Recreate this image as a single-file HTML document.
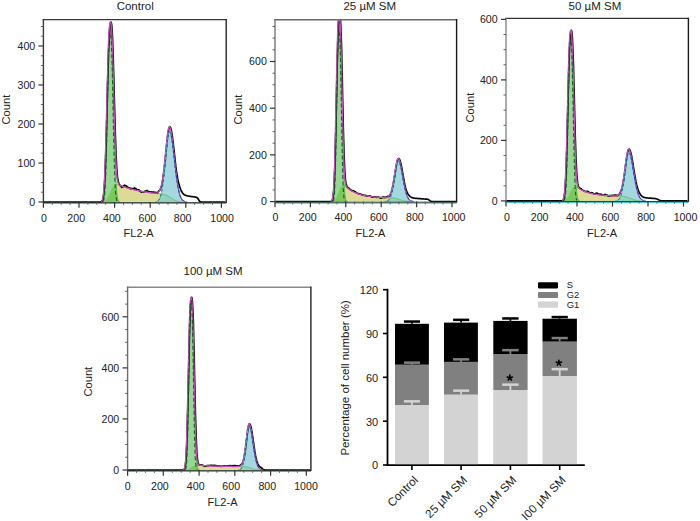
<!DOCTYPE html>
<html><head><meta charset="utf-8"><style>
html,body{margin:0;padding:0;background:#fff;}
body{width:700px;height:521px;overflow:hidden;}
svg{display:block;font-family:"Liberation Sans", sans-serif;}
</style></head><body>
<svg width="700" height="521" viewBox="0 0 700 521">
<clipPath id="c43"><rect x="43.4" y="19.6" width="182.8" height="183.4"/></clipPath>
<g clip-path="url(#c43)">
<path d="M101.8,201.9 102.1,201.9 102.5,201.8 102.9,201.7 103.2,201.7 103.6,201.6 103.9,201.4 104.3,201.3 104.6,201.1 105,200.9 105.3,200.6 105.7,200.3 106.1,199.9 106.4,199.5 106.8,199.1 107.1,198.5 107.5,198 107.8,197.3 108.2,196.6 108.5,195.9 108.9,195.2 109.3,194.4 109.6,193.6 110,192.7 110.3,191.9 110.7,191.1 111,190.3 111.4,189.5 111.8,188.8 112.1,188.1 112.5,187.5 112.8,186.9 113.2,186.4 113.5,186 113.9,185.6 114.2,185.3 114.6,185 115,184.8 115.3,184.7 115.7,184.6 116,184.5 116.4,184.5 116.7,184.5 117.1,184.5 117.4,184.6 117.8,184.7 118.2,184.8 118.5,184.9 118.9,185 119.2,185.1 119.6,185.2 119.9,185.4 120.3,185.5 120.7,185.6 121,185.8 121.4,185.9 121.7,186 122.1,186.2 122.4,186.3 122.8,186.4 123.1,186.5 123.5,186.7 123.9,186.8 124.2,186.9 124.6,187 124.9,187.2 125.3,187.3 125.6,187.4 126,187.5 126.3,187.6 126.7,187.7 127.1,187.9 127.4,188 127.8,188.1 128.1,188.2 128.5,188.3 128.8,188.4 129.2,188.5 129.6,188.6 129.9,188.7 130.3,188.8 130.6,188.9 131,189 131.3,189.1 131.7,189.2 132,189.3 132.4,189.4 132.8,189.4 133.1,189.5 133.5,189.6 133.8,189.7 134.2,189.8 134.5,189.9 134.9,190 135.2,190 135.6,190.1 136,190.2 136.3,190.3 136.7,190.4 137,190.4 137.4,190.5 137.7,190.6 138.1,190.7 138.5,190.7 138.8,190.8 139.2,190.9 139.5,190.9 139.9,191 140.2,191.1 140.6,191.2 140.9,191.2 141.3,191.3 141.7,191.3 142,191.4 142.4,191.5 142.7,191.5 143.1,191.6 143.4,191.7 143.8,191.7 144.1,191.8 144.5,191.8 144.9,191.9 145.2,191.9 145.6,192 145.9,192.1 146.3,192.1 146.6,192.2 147,192.2 147.4,192.3 147.7,192.3 148.1,192.4 148.4,192.4 148.8,192.5 149.1,192.5 149.5,192.6 149.8,192.6 150.2,192.7 150.6,192.7 150.9,192.8 151.3,192.8 151.6,192.8 152,192.9 152.3,192.9 152.7,193 153,193 153.4,193.1 153.8,193.1 154.1,193.1 154.5,193.2 154.8,193.2 155.2,193.3 155.5,193.3 155.9,193.3 156.3,193.4 156.6,193.4 157,193.5 157.3,193.5 157.7,193.5 158,193.6 158.4,193.6 158.7,193.6 159.1,193.7 159.5,193.7 159.8,193.8 160.2,193.8 160.5,193.9 160.9,193.9 161.2,194 161.6,194 161.9,194.1 162.3,194.1 162.7,194.2 163,194.3 163.4,194.4 163.7,194.4 164.1,194.5 164.4,194.6 164.8,194.7 165.2,194.8 165.5,195 165.9,195.1 166.2,195.2 166.6,195.4 166.9,195.5 167.3,195.7 167.6,195.9 168,196.1 168.4,196.3 168.7,196.5 169.1,196.7 169.4,196.9 169.8,197.1 170.1,197.3 170.5,197.5 170.8,197.8 171.2,198 171.6,198.2 171.9,198.5 172.3,198.7 172.6,198.9 173,199.1 173.3,199.3 173.7,199.6 174.1,199.8 174.4,199.9 174.8,200.1 175.1,200.3 175.5,200.5 175.8,200.6 176.2,200.8 176.5,200.9 176.9,201 177.3,201.1 177.6,201.2 178,201.3 178.3,201.4 178.7,201.5 179,201.6 179.4,201.6 179.7,201.7 180.1,201.7 180.5,201.8 180.8,201.8 181.2,201.8 181.5,201.9 181.9,201.9 L181.9,202 L101.8,202 Z" fill="#dcda96"/>
<path d="M101.8,201.9 102.1,201.9 102.5,201.8 102.9,201.7 103.2,201.7 103.6,201.6 103.9,201.4 104.3,201.3 104.6,201.1 105,200.9 105.3,200.6 105.7,200.3 106.1,199.9 106.4,199.5 106.8,199.1 107.1,198.5 107.5,198 107.8,197.3 108.2,196.6 108.5,195.9 108.9,195.2 109.3,194.4 109.6,193.6 110,192.7 110.3,191.9 110.7,191.1 111,190.3 111.4,189.5 111.8,188.8 112.1,188.1 112.5,187.5 112.8,186.9 113.2,186.4 113.5,186 113.9,185.6 114.2,185.3 114.6,185 115,184.8 115.3,184.7 115.7,184.6 116,184.5 116.4,184.5 116.7,184.5 117.1,184.5 117.4,184.6 117.8,184.7 118.2,184.8 118.5,184.9 118.9,185 119.2,185.1 119.6,185.2 119.9,185.4 120.3,185.5 120.7,185.6 121,185.8 121.4,185.9 121.7,186 122.1,186.2 122.4,186.3 122.8,186.4 123.1,186.5 123.5,186.7 123.9,186.8 124.2,186.9 124.6,187 124.9,187.2 125.3,187.3 125.6,187.4 126,187.5 126.3,187.6 126.7,187.7 127.1,187.9 127.4,188 127.8,188.1 128.1,188.2 128.5,188.3 128.8,188.4 129.2,188.5 129.6,188.6 129.9,188.7 130.3,188.8 130.6,188.9 131,189 131.3,189.1 131.7,189.2 132,189.3 132.4,189.4 132.8,189.4 133.1,189.5 133.5,189.6 133.8,189.7 134.2,189.8 134.5,189.9 134.9,190 135.2,190 135.6,190.1 136,190.2 136.3,190.3 136.7,190.4 137,190.4 137.4,190.5 137.7,190.6 138.1,190.7 138.5,190.7 138.8,190.8 139.2,190.9 139.5,190.9 139.9,191 140.2,191.1 140.6,191.2 140.9,191.2 141.3,191.3 141.7,191.3 142,191.4 142.4,191.5 142.7,191.5 143.1,191.6 143.4,191.7 143.8,191.7 144.1,191.8 144.5,191.8 144.9,191.9 145.2,191.9 145.6,192 145.9,192.1 146.3,192.1 146.6,192.2 147,192.2 147.4,192.3 147.7,192.3 148.1,192.4 148.4,192.4 148.8,192.5 149.1,192.5 149.5,192.6 149.8,192.6 150.2,192.7 150.6,192.7 150.9,192.8 151.3,192.8 151.6,192.8 152,192.9 152.3,192.9 152.7,193 153,193 153.4,193.1 153.8,193.1 154.1,193.1 154.5,193.2 154.8,193.2 155.2,193.3 155.5,193.3 155.9,193.3 156.3,193.4 156.6,193.4 157,193.5 157.3,193.5 157.7,193.5 158,193.6 158.4,193.6 158.7,193.6 159.1,193.7 159.5,193.7 159.8,193.8 160.2,193.8 160.5,193.9 160.9,193.9 161.2,194 161.6,194 161.9,194.1 162.3,194.1 162.7,194.2 163,194.3 163.4,194.4 163.7,194.4 164.1,194.5 164.4,194.6 164.8,194.7 165.2,194.8 165.5,195 165.9,195.1 166.2,195.2 166.6,195.4 166.9,195.5 167.3,195.7 167.6,195.9 168,196.1 168.4,196.3 168.7,196.5 169.1,196.7 169.4,196.9 169.8,197.1 170.1,197.3 170.5,197.5 170.8,197.8 171.2,198 171.6,198.2 171.9,198.5 172.3,198.7 172.6,198.9 173,199.1 173.3,199.3 173.7,199.6 174.1,199.8 174.4,199.9 174.8,200.1 175.1,200.3 175.5,200.5 175.8,200.6 176.2,200.8 176.5,200.9 176.9,201 177.3,201.1 177.6,201.2 178,201.3 178.3,201.4 178.7,201.5 179,201.6 179.4,201.6 179.7,201.7 180.1,201.7 180.5,201.8 180.8,201.8 181.2,201.8 181.5,201.9 181.9,201.9" fill="none" stroke="#e07a3a" stroke-width="0.9"/>
<path d="M100.4,201.9 100.7,201.9 101.1,201.7 101.4,201.5 101.8,201.1 102.1,200.5 102.5,199.5 102.9,197.9 103.2,195.7 103.6,192.6 103.9,188.4 104.3,182.9 104.6,175.9 105,167.3 105.3,157.2 105.7,145.7 106.1,133 106.4,119.5 106.8,105.6 107.1,91.9 107.5,78.8 107.8,67 108.2,56.7 108.5,48.3 108.9,41.9 109.3,37.6 109.6,35 110,34 110.3,33.9 110.7,34.6 111,36.6 111.4,40.4 111.8,46.2 112.1,54 112.5,63.7 112.8,75.1 113.2,87.9 113.5,101.4 113.9,115.3 114.2,129 114.6,142 115,153.9 115.3,164.4 115.7,173.5 116,180.9 116.4,186.9 116.7,191.5 117.1,194.9 117.4,197.4 117.8,199.1 118.2,200.2 118.5,200.9 118.9,201.4 119.2,201.7 119.6,201.8 119.9,201.9 L119.9,202 L100.4,202 Z" fill="#96d796"/>
<path d="M155.2,201.9 155.5,201.8 155.9,201.8 156.3,201.7 156.6,201.6 157,201.5 157.3,201.3 157.7,201.1 158,200.8 158.4,200.5 158.7,200.1 159.1,199.6 159.5,199 159.8,198.3 160.2,197.4 160.5,196.3 160.9,195.1 161.2,193.7 161.6,192.1 161.9,190.2 162.3,188.1 162.7,185.8 163,183.2 163.4,180.3 163.7,177.3 164.1,174 164.4,170.5 164.8,166.9 165.2,163.2 165.5,159.4 165.9,155.6 166.2,151.9 166.6,148.3 166.9,145 167.3,141.8 167.6,139 168,136.6 168.4,134.7 168.7,133.2 169.1,132.2 169.4,131.8 169.8,131.9 170.1,132.4 170.5,133.2 170.8,134.5 171.2,136 171.6,137.9 171.9,140 172.3,142.5 172.6,145.1 173,147.9 173.3,150.9 173.7,153.9 174.1,157.1 174.4,160.2 174.8,163.4 175.1,166.5 175.5,169.5 175.8,172.4 176.2,175.2 176.5,177.9 176.9,180.5 177.3,182.8 177.6,185 178,187.1 178.3,188.9 178.7,190.6 179,192.1 179.4,193.5 179.7,194.7 180.1,195.8 180.5,196.8 180.8,197.6 181.2,198.3 181.5,198.9 181.9,199.4 182.2,199.9 182.6,200.3 183,200.6 183.3,200.9 183.7,201.1 184,201.3 184.4,201.4 184.7,201.5 185.1,201.6 185.4,201.7 185.8,201.8 186.2,201.8 186.5,201.9 186.9,201.9 L186.9,202 L155.2,202 Z" fill="#a5d7e1"/>
<path d="M101.8,201.9 102.1,201.9 102.5,201.8 102.9,201.7 103.2,201.7 103.6,201.6 103.9,201.4 104.3,201.3 104.6,201.1 105,200.9 105.3,200.6 105.7,200.3 106.1,199.9 106.4,199.5 106.8,199.1 107.1,198.5 107.5,198 107.8,197.3 108.2,196.6 108.5,195.9 108.9,195.2 109.3,194.4 109.6,193.6 110,192.7 110.3,191.9 110.7,191.1 111,190.3 111.4,189.5 111.8,188.8 112.1,188.1 112.5,187.5 112.8,186.9 113.2,186.4 113.5,186 113.9,185.6 114.2,185.3 114.6,185 115,184.8 115.3,184.7 115.7,184.6 116,184.5 116.4,186.9 116.7,191.5 117.1,194.9 117.4,197.4 117.8,199.1 118.2,200.2 118.5,200.9 118.9,201.4 119.2,201.7 119.6,201.8 119.9,201.9 L119.9,202 L101.8,202 Z" fill="#7dc85a"/>
<path d="M155.2,201.9 155.5,201.8 155.9,201.8 156.3,201.7 156.6,201.6 157,201.5 157.3,201.3 157.7,201.1 158,200.8 158.4,200.5 158.7,200.1 159.1,199.6 159.5,199 159.8,198.3 160.2,197.4 160.5,196.3 160.9,195.1 161.2,194 161.6,194 161.9,194.1 162.3,194.1 162.7,194.2 163,194.3 163.4,194.4 163.7,194.4 164.1,194.5 164.4,194.6 164.8,194.7 165.2,194.8 165.5,195 165.9,195.1 166.2,195.2 166.6,195.4 166.9,195.5 167.3,195.7 167.6,195.9 168,196.1 168.4,196.3 168.7,196.5 169.1,196.7 169.4,196.9 169.8,197.1 170.1,197.3 170.5,197.5 170.8,197.8 171.2,198 171.6,198.2 171.9,198.5 172.3,198.7 172.6,198.9 173,199.1 173.3,199.3 173.7,199.6 174.1,199.8 174.4,199.9 174.8,200.1 175.1,200.3 175.5,200.5 175.8,200.6 176.2,200.8 176.5,200.9 176.9,201 177.3,201.1 177.6,201.2 178,201.3 178.3,201.4 178.7,201.5 179,201.6 179.4,201.6 179.7,201.7 180.1,201.7 180.5,201.8 180.8,201.8 181.2,201.8 181.5,201.9 181.9,201.9 L181.9,202 L155.2,202 Z" fill="#8fd2bf"/>
<path d="M155.2,201.9 155.5,201.8 155.9,201.8 156.3,201.7 156.6,201.6 157,201.5 157.3,201.3 157.7,201.1 158,200.8 158.4,200.5 158.7,200.1 159.1,199.6 159.5,199 159.8,198.3 160.2,197.4 160.5,196.3 160.9,195.1 161.2,194 161.6,194 161.9,194.1 162.3,194.1 162.7,194.2 163,194.3 163.4,194.4 163.7,194.4 164.1,194.5 164.4,194.6 164.8,194.7 165.2,194.8 165.5,195 165.9,195.1 166.2,195.2 166.6,195.4 166.9,195.5 167.3,195.7 167.6,195.9 168,196.1 168.4,196.3 168.7,196.5 169.1,196.7 169.4,196.9 169.8,197.1 170.1,197.3 170.5,197.5 170.8,197.8 171.2,198 171.6,198.2 171.9,198.5 172.3,198.7 172.6,198.9 173,199.1 173.3,199.3 173.7,199.6 174.1,199.8 174.4,199.9 174.8,200.1 175.1,200.3 175.5,200.5 175.8,200.6 176.2,200.8 176.5,200.9 176.9,201 177.3,201.1 177.6,201.2 178,201.3 178.3,201.4 178.7,201.5 179,201.6 179.4,201.6 179.7,201.7 180.1,201.7 180.5,201.8 180.8,201.8 181.2,201.8 181.5,201.9 181.9,201.9" fill="none" stroke="#5cc24a" stroke-width="0.8"/>
<path d="M100.4,201.9 100.7,201.9 101.1,201.7 101.4,201.5 101.8,201.1 102.1,200.5 102.5,199.5 102.9,197.9 103.2,195.7 103.6,192.6 103.9,188.4 104.3,182.9 104.6,175.9 105,167.3 105.3,157.2 105.7,145.7 106.1,133 106.4,119.5 106.8,105.6 107.1,91.9 107.5,78.8 107.8,67 108.2,56.7 108.5,48.3 108.9,41.9 109.3,37.6 109.6,35 110,34 110.3,33.9 110.7,34.6 111,36.6 111.4,40.4 111.8,46.2 112.1,54 112.5,63.7 112.8,75.1 113.2,87.9 113.5,101.4 113.9,115.3 114.2,129 114.6,142 115,153.9 115.3,164.4 115.7,173.5 116,180.9 116.4,186.9 116.7,191.5 117.1,194.9 117.4,197.4 117.8,199.1 118.2,200.2 118.5,200.9 118.9,201.4 119.2,201.7 119.6,201.8 119.9,201.9" fill="none" stroke="#3dbb3d" stroke-width="0.9"/>
<path d="M105,166.1 105.3,155.7 105.7,143.8 106.1,130.7 106.4,116.7 106.8,102.2 107.1,87.8 107.5,74.1 107.8,61.4 108.2,50.2 108.5,40.9 108.9,33.6 109.3,28.2 109.6,24.8 110,22.9 110.3,21.9 110.7,21.8 111,23.2 111.4,26.4 111.8,31.6 112.1,38.9 112.5,48.2 112.8,59.3 113.2,71.7 113.5,84.9 113.9,98.6 114.2,112 114.6,124.8 115,136.6 115.3,147 L115.3,164.4 L115,153.9 L114.6,142 L114.2,129 L113.9,115.3 L113.5,101.4 L113.2,87.9 L112.8,75.1 L112.5,63.7 L112.1,54 L111.8,46.2 L111.4,40.4 L111,36.6 L110.7,34.6 L110.3,33.9 L110,34 L109.6,35 L109.3,37.6 L108.9,41.9 L108.5,48.3 L108.2,56.7 L107.8,67 L107.5,78.8 L107.1,91.9 L106.8,105.6 L106.4,119.5 L106.1,133 L105.7,145.7 L105.3,157.2 L105,167.3 Z" fill="#c94cbe"/>
<path d="M43.4,202 43.8,202 44.1,202 44.5,202 44.8,202 45.2,202 45.5,202 45.9,202 46.2,202 46.6,202 47,202 47.3,202 47.7,202 48,202 48.4,202 48.7,202 49.1,202 49.5,202 49.8,202 50.2,202 50.5,202 50.9,202 51.2,202 51.6,202 51.9,202 52.3,202 52.7,202 53,202 53.4,202 53.7,202 54.1,202 54.4,202 54.8,202 55.1,202 55.5,202 55.9,202 56.2,202 56.6,202 56.9,202 57.3,202 57.6,202 58,202 58.4,202 58.7,202 59.1,202 59.4,202 59.8,202 60.1,202 60.5,202 60.8,202 61.2,202 61.6,202 61.9,202 62.3,202 62.6,202 63,202 63.3,202 63.7,202 64,202 64.4,202 64.8,202 65.1,202 65.5,202 65.8,202 66.2,202 66.5,202 66.9,202 67.3,202 67.6,202 68,202 68.3,202 68.7,202 69,202 69.4,202 69.7,202 70.1,202 70.5,202 70.8,202 71.2,202 71.5,202 71.9,202 72.2,202 72.6,202 72.9,202 73.3,202 73.7,202 74,202 74.4,202 74.7,202 75.1,202 75.4,202 75.8,202 76.2,202 76.5,202 76.9,202 77.2,202 77.6,202 77.9,202 78.3,202 78.6,202 79,202 79.4,202 79.7,202 80.1,202 80.4,202 80.8,202 81.1,202 81.5,202 81.8,202 82.2,202 82.6,202 82.9,202 83.3,202 83.6,202 84,202 84.3,202 84.7,202 85.1,202 85.4,202 85.8,202 86.1,202 86.5,202 86.8,202 87.2,202 87.5,202 87.9,202 88.3,202 88.6,202 89,202 89.3,202 89.7,202 90,202 90.4,202 90.7,202 91.1,202 91.5,202 91.8,202 92.2,202 92.5,202 92.9,202 93.2,202 93.6,202 94,202 94.3,202 94.7,202 95,202 95.4,202 95.7,202 96.1,202 96.4,202 96.8,202 97.2,202 97.5,202 97.9,202 98.2,202 98.6,202 98.9,202 99.3,202 99.6,202 100,202 100.4,202 100.7,201.9 101.1,201.8 101.4,201.7 101.8,201.5 102.1,201.1 102.5,200.5 102.9,199.5 103.2,198.1 103.6,196 103.9,193 104.3,188.9 104.6,183.6 105,176.7 105.3,168.3 105.7,158.3 106.1,146.8 106.4,134 106.8,120.2 107.1,105.9 107.5,91.5 107.8,77.6 108.2,64.6 108.5,53.1 108.9,43.4 109.3,35.5 109.6,29.7 110,25.8 110.3,23.5 110.7,22.4 111,22.1 111.4,23 111.8,25.7 112.1,30.4 112.5,37.2 112.8,46 113.2,56.6 113.5,68.6 113.9,81.7 114.2,95.2 114.6,108.7 115,121.7 115.3,133.7 115.7,144.4 116,153.8 116.4,161.6 116.7,167.9 117.1,172.8 117.4,176.6 117.8,179.3 118.2,181.2 118.5,182.6 118.9,183.6 119.2,184.2 119.6,184.6 119.9,185.2 120.3,185.5 120.7,185.7 121,186.1 121.4,187 121.7,187.3 122.1,186.8 122.4,186.7 122.8,186.9 123.1,186.3 123.5,185.9 123.9,185.8 124.2,185.4 124.6,185.2 124.9,185.2 125.3,186 125.6,185.9 126,185.9 126.3,185.9 126.7,186.4 127.1,186.6 127.4,187.1 127.8,187.1 128.1,187.5 128.5,187.7 128.8,187.9 129.2,188 129.6,188.4 129.9,188.2 130.3,188.6 130.6,188.4 131,188.9 131.3,188.8 131.7,188.4 132,188.4 132.4,188.7 132.8,188.8 133.1,188.6 133.5,188.5 133.8,188.7 134.2,188.1 134.5,187.8 134.9,188.1 135.2,188.8 135.6,188.9 136,188.6 136.3,189.4 136.7,189.4 137,189.7 137.4,190.1 137.7,190.2 138.1,190 138.5,189.5 138.8,189.6 139.2,190.6 139.5,190.9 139.9,191 140.2,191 140.6,191.3 140.9,191.6 141.3,192.2 141.7,192.1 142,192.1 142.4,191.9 142.7,191.7 143.1,191.7 143.4,191.9 143.8,192 144.1,191.7 144.5,191.4 144.9,191.6 145.2,191.2 145.6,191.2 145.9,190.9 146.3,191 146.6,190.9 147,190.5 147.4,190.8 147.7,191 148.1,191.4 148.4,191.7 148.8,191.5 149.1,191.9 149.5,191.8 149.8,191.8 150.2,192.1 150.6,192.1 150.9,192.3 151.3,192 151.6,191.9 152,192.1 152.3,192.3 152.7,192.1 153,192.1 153.4,192.2 153.8,192 154.1,192 154.5,192.4 154.8,192.3 155.2,192.3 155.5,192.3 155.9,192.6 156.3,192.7 156.6,192.6 157,192.9 157.3,193.1 157.7,192.5 158,192.5 158.4,191.7 158.7,190.9 159.1,190.8 159.5,190.5 159.8,190.2 160.2,189.6 160.5,188.9 160.9,188.1 161.2,187 161.6,186 161.9,184.6 162.3,182.7 162.7,180.7 163,178.5 163.4,176 163.7,173.3 164.1,170.4 164.4,167.3 164.8,164 165.2,160.5 165.5,156.9 165.9,153.3 166.2,149.7 166.6,146.1 166.9,142.6 167.3,139.3 167.6,136.3 168,133.6 168.4,131.3 168.7,129.4 169.1,128 169.4,127.1 169.8,126.7 170.1,126.9 170.5,127.5 170.8,128.5 171.2,129.9 171.6,131.6 171.9,133.6 172.3,135.9 172.6,138.5 173,141.3 173.3,144.3 173.7,147.4 174.1,150.6 174.4,153.8 174.8,157.1 175.1,160.3 175.5,163.4 175.8,166.4 176.2,169.2 176.5,171.8 176.9,174.2 177.3,176.4 177.6,178.4 178,180.2 178.3,181.8 178.7,183.3 179,184.6 179.4,185.8 179.7,186.9 180.1,187.9 180.5,188.9 180.8,189.8 181.2,190.6 181.5,191.3 181.9,191.9 182.2,192.5 182.6,193 183,193.5 183.3,193.9 183.7,194.2 184,194.5 184.4,194.7 184.7,195 185.1,195.1 185.4,195.3 185.8,195.4 186.2,195.6 186.5,195.7 186.9,195.7 187.2,195.8 187.6,195.9 187.9,196 188.3,196 188.6,196.1 189,196.2 189.4,196.2 189.7,196.3 190.1,196.3 190.4,196.4 190.8,196.4 191.1,196.5 191.5,196.5 191.9,196.6 192.2,196.6 192.6,196.7 192.9,196.7 193.3,196.8 193.6,196.8 194,196.9 194.3,196.9 194.7,197 195.1,197 195.4,197.1 195.8,197.1 196.1,197.2 196.5,197.3 196.8,197.5 197.2,197.8 197.5,198.1 197.9,198.6 198.3,199.1 198.6,199.8 199,200.4 199.3,200.9 199.7,201.3 200,201.6 200.4,201.8 200.8,201.9 201.1,202 201.5,202 201.8,202 202.2,202 202.5,202 202.9,202 203.2,202 203.6,202 204,202 204.3,202 204.7,202 205,202 205.4,202 205.7,202 206.1,202 206.4,202 206.8,202 207.2,202 207.5,202 207.9,202 208.2,202 208.6,202 208.9,202 209.3,202 209.7,202 210,202 210.4,202 210.7,202 211.1,202 211.4,202 211.8,202 212.1,202 212.5,202 212.9,202 213.2,202 213.6,202 213.9,202 214.3,202 214.6,202 215,202 215.3,202 215.7,202 216.1,202 216.4,202 216.8,202 217.1,202 217.5,202 217.8,202 218.2,202 218.6,202 218.9,202 219.3,202 219.6,202 220,202 220.3,202 220.7,202 221,202 221.4,202 221.8,202 222.1,202 222.5,202 222.8,202 223.2,202 223.5,202 223.9,202 224.2,202 224.6,202 225,202 225.3,202" fill="none" stroke="#0a0a0a" stroke-width="1.7" stroke-linejoin="round"/>
<path d="M101.1,201.7 101.4,201.4 101.8,201 102.1,200.3 102.5,199.3 102.9,197.7 103.2,195.4 103.6,192.2 103.9,187.8 104.3,182.1 104.6,174.9 105,166.1 105.3,155.7 105.7,143.8 106.1,130.7 106.4,116.7 106.8,102.2 107.1,87.8 107.5,74.1 107.8,61.4 108.2,50.2 108.5,40.9 108.9,33.6 109.3,28.2 109.6,24.8 110,22.9 110.3,21.9 110.7,21.8 111,23.2 111.4,26.4 111.8,31.6 112.1,38.9 112.5,48.2 112.8,59.3 113.2,71.7 113.5,84.9 113.9,98.6 114.2,112 114.6,124.8 115,136.6 115.3,147 115.7,156 116,163.4 116.4,169.4 116.7,174 117.1,177.4 117.4,179.9 117.8,181.7 118.2,183 118.5,183.8 118.9,184.4 119.2,184.8 119.6,185 119.9,185.3 120.3,185.4 120.7,185.6 121,185.7 121.4,185.9 121.7,186 122.1,186.2 122.4,186.3 122.8,186.4 123.1,186.5 123.5,186.7 123.9,186.8 124.2,186.9 124.6,187 124.9,187.2 125.3,187.3 125.6,187.4 126,187.5 126.3,187.6 126.7,187.7 127.1,187.9 127.4,188 127.8,188.1 128.1,188.2 128.5,188.3 128.8,188.4 129.2,188.5 129.6,188.6 129.9,188.7 130.3,188.8 130.6,188.9 131,189 131.3,189.1 131.7,189.2 132,189.3 132.4,189.4 132.8,189.4 133.1,189.5 133.5,189.6 133.8,189.7 134.2,189.8 134.5,189.9 134.9,190 135.2,190 135.6,190.1 136,190.2 136.3,190.3 136.7,190.4 137,190.4 137.4,190.5 137.7,190.6 138.1,190.7 138.5,190.7 138.8,190.8 139.2,190.9 139.5,190.9 139.9,191 140.2,191.1 140.6,191.2 140.9,191.2 141.3,191.3 141.7,191.3 142,191.4 142.4,191.5 142.7,191.5 143.1,191.6 143.4,191.7 143.8,191.7 144.1,191.8 144.5,191.8 144.9,191.9 145.2,191.9 145.6,192 145.9,192.1 146.3,192.1 146.6,192.2 147,192.2 147.4,192.3 147.7,192.3 148.1,192.4 148.4,192.4 148.8,192.5 149.1,192.5 149.5,192.6 149.8,192.6 150.2,192.7 150.6,192.7 150.9,192.8 151.3,192.8 151.6,192.8 152,192.9 152.3,192.9 152.7,193 153,193 153.4,193 153.8,193.1 154.1,193.1 154.5,193.1 154.8,193.1 155.2,193.1 155.5,193.1 155.9,193.1 156.3,193.1 156.6,193 157,192.9 157.3,192.8 157.7,192.6 158,192.4 158.4,192.1 158.7,191.8 159.1,191.3 159.5,190.7 159.8,190 160.2,189.2 160.5,188.2 160.9,187 161.2,185.7 161.6,184.1 161.9,182.3 162.3,180.2 162.7,178 163,175.4 163.4,172.7 163.7,169.7 164.1,166.5 164.4,163.2 164.8,159.6 165.2,156 165.5,152.4 165.9,148.7 166.2,145.2 166.6,141.7 166.9,138.5 167.3,135.5 167.6,132.9 168,130.7 168.4,128.9 168.7,127.6 169.1,126.9 169.4,126.7 169.8,127 170.1,127.7 170.5,128.8 170.8,130.2 171.2,132 171.6,134.1 171.9,136.5 172.3,139.2 172.6,142 173,145 173.3,148.2 173.7,151.5 174.1,154.8 174.4,158.2 174.8,161.5 175.1,164.8 175.5,168 175.8,171 176.2,174 176.5,176.8 176.9,179.5 177.3,182 177.6,184.3 178,186.4 178.3,188.3 178.7,190.1 179,191.7 179.4,193.1 179.7,194.4 180.1,195.5 180.5,196.5 180.8,197.4 181.2,198.1 181.5,198.8 181.9,199.3 182.2,199.8 182.6,200.2 183,200.5 183.3,200.8 183.7,201 184,201.2 184.4,201.4 184.7,201.5 185.1,201.6" fill="none" stroke="#c94cbe" stroke-width="1.25"/>
<path d="M169.4,131.8 169.8,131.9 170.1,132.4 170.5,133.2 170.8,134.5 171.2,136 171.6,137.9 171.9,140 172.3,142.5 172.6,145.1 173,147.9 173.3,150.9 173.7,153.9 174.1,157.1 174.4,160.2 174.8,163.4 175.1,166.5 175.5,169.5 175.8,172.4 176.2,175.2 176.5,177.9 176.9,180.5 177.3,182.8 177.6,185 178,187.1 178.3,188.9 178.7,190.6 179,192.1 179.4,193.5 179.7,194.7 180.1,195.8 180.5,196.8 180.8,197.6 181.2,198.3 181.5,198.9 181.9,199.4 182.2,199.9 182.6,200.3 183,200.6 183.3,200.9 183.7,201.1 184,201.3 184.4,201.4 184.7,201.5 185.1,201.6 185.4,201.7 185.8,201.8 186.2,201.8 186.5,201.9 186.9,201.9" fill="none" stroke="#4a6fd6" stroke-width="1"/>
<path d="M155.2,201.9 155.5,201.8 155.9,201.8 156.3,201.7 156.6,201.6 157,201.5 157.3,201.3 157.7,201.1 158,200.8 158.4,200.5 158.7,200.1 159.1,199.6 159.5,199 159.8,198.3 160.2,197.4 160.5,196.3 160.9,195.1 161.2,193.7 161.6,192.1 161.9,190.2 162.3,188.1 162.7,185.8 163,183.2 163.4,180.3 163.7,177.3 164.1,174 164.4,170.5 164.8,166.9 165.2,163.2 165.5,159.4 165.9,155.6 166.2,151.9 166.6,148.3 166.9,145 167.3,141.8 167.6,139 168,136.6 168.4,134.7 168.7,133.2 169.1,132.2 169.4,131.8 169.8,131.9" fill="none" stroke="#55c8dc" stroke-width="0.9"/>
<path d="M103.2,201.4 103.6,200.7 103.9,199.6 104.3,197.7 104.6,194.8 105,190.3 105.3,184 105.7,175.5 106.1,164.6 106.4,151.4 106.8,136.3 107.1,119.7 107.5,102.6 107.8,85.9 108.2,70.6 108.5,57.5 108.9,47.2 109.3,40 109.6,35.8 110,34.1 110.3,33.9 110.7,35.1 111,38.5 111.4,44.8 111.8,54.1 112.1,66.4 112.5,81.1 112.8,97.5 113.2,114.6 113.5,131.4 113.9,147.1 114.2,160.9 114.6,172.5 115,181.7 115.3,188.6 115.7,193.6 116,197 116.4,199.1 116.7,200.4 117.1,201.2 117.4,201.6" fill="none" stroke="#1d5a2a" stroke-width="1.1" stroke-dasharray="4,2.5"/>
<path d="M158,200.8 158.4,200.5 158.7,200.1 159.1,199.6 159.5,199 159.8,198.3 160.2,197.4 160.5,196.3 160.9,195.1 161.2,193.7 161.6,192.1 161.9,190.2 162.3,188.1 162.7,185.8 163,183.2 163.4,180.3 163.7,177.3 164.1,174 164.4,170.5 164.8,166.9 165.2,163.2 165.5,159.4 165.9,155.6 166.2,151.9 166.6,148.3 166.9,145 167.3,141.8 167.6,139 168,136.6 168.4,134.7 168.7,133.2 169.1,132.2 169.4,131.8 169.8,131.9 170.1,132.4 170.5,133.2 170.8,134.5 171.2,136 171.6,137.9 171.9,140 172.3,142.5 172.6,145.1 173,147.9 173.3,150.9 173.7,153.9 174.1,157.1 174.4,160.2 174.8,163.4 175.1,166.5 175.5,169.5 175.8,172.4 176.2,175.2 176.5,177.9 176.9,180.5 177.3,182.8 177.6,185 178,187.1 178.3,188.9 178.7,190.6 179,192.1 179.4,193.5 179.7,194.7 180.1,195.8 180.5,196.8 180.8,197.6 181.2,198.3 181.5,198.9 181.9,199.4 182.2,199.9 182.6,200.3 183,200.6 183.3,200.9" fill="none" stroke="#1a2a40" stroke-opacity="0.75" stroke-width="0.9" stroke-dasharray="2.5,2.5"/>
</g>
<line x1="43.4" y1="203.5" x2="226.2" y2="203.5" stroke="#48c8d6" stroke-width="1.1"/>
<line x1="43.4" y1="202.6" x2="226.2" y2="202.6" stroke="#1c2e24" stroke-width="0.9"/>
<line x1="42.7" y1="19.6" x2="226.2" y2="19.6" stroke="#3a3a3a" stroke-width="1.4"/>
<line x1="43.4" y1="18.9" x2="43.4" y2="202.5" stroke="#3a3a3a" stroke-width="1.4"/>
<line x1="226.2" y1="18.9" x2="226.2" y2="202.9" stroke="#262626" stroke-width="1.4"/>
<line x1="38.4" y1="202" x2="43.4" y2="202" stroke="#333" stroke-width="1.2"/>
<text x="35.2" y="205.8" text-anchor="end" font-size="10.6" fill="#222">0</text>
<line x1="40.9" y1="192.2" x2="43.4" y2="192.2" stroke="#555" stroke-width="0.9"/>
<line x1="40.9" y1="182.5" x2="43.4" y2="182.5" stroke="#555" stroke-width="0.9"/>
<line x1="40.9" y1="172.8" x2="43.4" y2="172.8" stroke="#555" stroke-width="0.9"/>
<line x1="38.4" y1="163" x2="43.4" y2="163" stroke="#333" stroke-width="1.2"/>
<text x="35.2" y="166.8" text-anchor="end" font-size="10.6" fill="#222">100</text>
<line x1="40.9" y1="153.2" x2="43.4" y2="153.2" stroke="#555" stroke-width="0.9"/>
<line x1="40.9" y1="143.5" x2="43.4" y2="143.5" stroke="#555" stroke-width="0.9"/>
<line x1="40.9" y1="133.8" x2="43.4" y2="133.8" stroke="#555" stroke-width="0.9"/>
<line x1="38.4" y1="124" x2="43.4" y2="124" stroke="#333" stroke-width="1.2"/>
<text x="35.2" y="127.8" text-anchor="end" font-size="10.6" fill="#222">200</text>
<line x1="40.9" y1="114.2" x2="43.4" y2="114.2" stroke="#555" stroke-width="0.9"/>
<line x1="40.9" y1="104.5" x2="43.4" y2="104.5" stroke="#555" stroke-width="0.9"/>
<line x1="40.9" y1="94.8" x2="43.4" y2="94.8" stroke="#555" stroke-width="0.9"/>
<line x1="38.4" y1="85" x2="43.4" y2="85" stroke="#333" stroke-width="1.2"/>
<text x="35.2" y="88.8" text-anchor="end" font-size="10.6" fill="#222">300</text>
<line x1="40.9" y1="75.2" x2="43.4" y2="75.2" stroke="#555" stroke-width="0.9"/>
<line x1="40.9" y1="65.5" x2="43.4" y2="65.5" stroke="#555" stroke-width="0.9"/>
<line x1="40.9" y1="55.8" x2="43.4" y2="55.8" stroke="#555" stroke-width="0.9"/>
<line x1="38.4" y1="46" x2="43.4" y2="46" stroke="#333" stroke-width="1.2"/>
<text x="35.2" y="49.8" text-anchor="end" font-size="10.6" fill="#222">400</text>
<line x1="40.9" y1="36.2" x2="43.4" y2="36.2" stroke="#555" stroke-width="0.9"/>
<line x1="40.9" y1="26.5" x2="43.4" y2="26.5" stroke="#555" stroke-width="0.9"/>
<line x1="43.4" y1="202" x2="43.4" y2="207.7" stroke="#333" stroke-width="1.2"/>
<text x="44" y="221.6" text-anchor="middle" font-size="10.6" fill="#222">0</text>
<line x1="52.3" y1="202" x2="52.3" y2="204.8" stroke="#555" stroke-width="0.9"/>
<line x1="61.2" y1="202" x2="61.2" y2="204.8" stroke="#555" stroke-width="0.9"/>
<line x1="70.1" y1="202" x2="70.1" y2="204.8" stroke="#555" stroke-width="0.9"/>
<line x1="79" y1="202" x2="79" y2="207.7" stroke="#333" stroke-width="1.2"/>
<text x="76.2" y="221.6" text-anchor="middle" font-size="10.6" fill="#222">200</text>
<line x1="87.9" y1="202" x2="87.9" y2="204.8" stroke="#555" stroke-width="0.9"/>
<line x1="96.8" y1="202" x2="96.8" y2="204.8" stroke="#555" stroke-width="0.9"/>
<line x1="105.7" y1="202" x2="105.7" y2="204.8" stroke="#555" stroke-width="0.9"/>
<line x1="114.6" y1="202" x2="114.6" y2="207.7" stroke="#333" stroke-width="1.2"/>
<text x="111.9" y="221.6" text-anchor="middle" font-size="10.6" fill="#222">400</text>
<line x1="123.5" y1="202" x2="123.5" y2="204.8" stroke="#555" stroke-width="0.9"/>
<line x1="132.4" y1="202" x2="132.4" y2="204.8" stroke="#555" stroke-width="0.9"/>
<line x1="141.3" y1="202" x2="141.3" y2="204.8" stroke="#555" stroke-width="0.9"/>
<line x1="150.2" y1="202" x2="150.2" y2="207.7" stroke="#333" stroke-width="1.2"/>
<text x="147.4" y="221.6" text-anchor="middle" font-size="10.6" fill="#222">600</text>
<line x1="159.1" y1="202" x2="159.1" y2="204.8" stroke="#555" stroke-width="0.9"/>
<line x1="168" y1="202" x2="168" y2="204.8" stroke="#555" stroke-width="0.9"/>
<line x1="176.9" y1="202" x2="176.9" y2="204.8" stroke="#555" stroke-width="0.9"/>
<line x1="185.8" y1="202" x2="185.8" y2="207.7" stroke="#333" stroke-width="1.2"/>
<text x="182.6" y="221.6" text-anchor="middle" font-size="10.6" fill="#222">800</text>
<line x1="194.7" y1="202" x2="194.7" y2="204.8" stroke="#555" stroke-width="0.9"/>
<line x1="203.6" y1="202" x2="203.6" y2="204.8" stroke="#555" stroke-width="0.9"/>
<line x1="212.5" y1="202" x2="212.5" y2="204.8" stroke="#555" stroke-width="0.9"/>
<line x1="221.4" y1="202" x2="221.4" y2="207.7" stroke="#333" stroke-width="1.2"/>
<text x="222.1" y="221.6" text-anchor="middle" font-size="10.6" fill="#222">1000</text>
<text x="135.2" y="9.7" text-anchor="middle" font-size="11.5" fill="#222">Control</text>
<text x="138.6" y="237" text-anchor="middle" font-size="11" fill="#222">FL2-A</text>
<text transform="translate(10.2,109.6) rotate(-90)" text-anchor="middle" font-size="11.2" fill="#222">Count</text>
<clipPath id="c275"><rect x="275" y="19.7" width="181.6" height="182.9"/></clipPath>
<g clip-path="url(#c275)">
<path d="M330.9,201.5 331.3,201.5 331.6,201.5 332,201.4 332.3,201.3 332.7,201.3 333.1,201.1 333.4,201 333.8,200.8 334.1,200.5 334.5,200.2 334.8,199.9 335.2,199.4 335.5,198.9 335.9,198.4 336.2,197.7 336.6,197 336.9,196.2 337.3,195.4 337.7,194.5 338,193.6 338.4,192.7 338.7,191.7 339.1,190.8 339.4,189.9 339.8,189.1 340.1,188.3 340.5,187.6 340.8,187 341.2,186.5 341.6,186.1 341.9,185.8 342.3,185.6 342.6,185.4 343,185.3 343.3,185.4 343.7,185.4 344,185.5 344.4,185.7 344.7,185.9 345.1,186.2 345.4,186.4 345.8,186.7 346.2,186.9 346.5,187.2 346.9,187.5 347.2,187.8 347.6,188.1 347.9,188.3 348.3,188.6 348.6,188.9 349,189.1 349.3,189.4 349.7,189.6 350,189.9 350.4,190.1 350.8,190.3 351.1,190.5 351.5,190.8 351.8,191 352.2,191.2 352.5,191.4 352.9,191.5 353.2,191.7 353.6,191.9 353.9,192.1 354.3,192.3 354.6,192.4 355,192.6 355.4,192.7 355.7,192.9 356.1,193 356.4,193.2 356.8,193.3 357.1,193.4 357.5,193.6 357.8,193.7 358.2,193.8 358.5,193.9 358.9,194.1 359.3,194.2 359.6,194.3 360,194.4 360.3,194.5 360.7,194.6 361,194.7 361.4,194.8 361.7,194.9 362.1,195 362.4,195.1 362.8,195.2 363.1,195.2 363.5,195.3 363.9,195.4 364.2,195.5 364.6,195.5 364.9,195.6 365.3,195.7 365.6,195.8 366,195.8 366.3,195.9 366.7,195.9 367,196 367.4,196.1 367.7,196.1 368.1,196.2 368.5,196.2 368.8,196.3 369.2,196.3 369.5,196.4 369.9,196.4 370.2,196.5 370.6,196.5 370.9,196.6 371.3,196.6 371.6,196.7 372,196.7 372.4,196.7 372.7,196.8 373.1,196.8 373.4,196.8 373.8,196.9 374.1,196.9 374.5,197 374.8,197 375.2,197 375.5,197 375.9,197.1 376.2,197.1 376.6,197.1 377,197.2 377.3,197.2 377.7,197.2 378,197.2 378.4,197.3 378.7,197.3 379.1,197.3 379.4,197.3 379.8,197.4 380.1,197.4 380.5,197.4 380.8,197.4 381.2,197.4 381.6,197.4 381.9,197.5 382.3,197.5 382.6,197.5 383,197.5 383.3,197.5 383.7,197.6 384,197.6 384.4,197.6 384.7,197.6 385.1,197.6 385.4,197.6 385.8,197.6 386.2,197.7 386.5,197.7 386.9,197.7 387.2,197.7 387.6,197.7 387.9,197.7 388.3,197.7 388.6,197.7 389,197.8 389.3,197.8 389.7,197.8 390.1,197.8 390.4,197.8 390.8,197.8 391.1,197.9 391.5,197.9 391.8,197.9 392.2,197.9 392.5,198 392.9,198 393.2,198 393.6,198.1 393.9,198.1 394.3,198.2 394.7,198.2 395,198.3 395.4,198.4 395.7,198.4 396.1,198.5 396.4,198.6 396.8,198.7 397.1,198.8 397.5,198.9 397.8,199 398.2,199.1 398.5,199.2 398.9,199.3 399.3,199.4 399.6,199.5 400,199.6 400.3,199.7 400.7,199.9 401,200 401.4,200.1 401.7,200.2 402.1,200.3 402.4,200.4 402.8,200.5 403.1,200.6 403.5,200.7 403.9,200.8 404.2,200.9 404.6,201 404.9,201 405.3,201.1 405.6,201.2 406,201.2 406.3,201.3 406.7,201.3 407,201.4 407.4,201.4 407.8,201.4 408.1,201.4 408.5,201.5 408.8,201.5 409.2,201.5 409.5,201.5 409.9,201.5 L409.9,201.6 L330.9,201.6 Z" fill="#dcda96"/>
<path d="M330.9,201.5 331.3,201.5 331.6,201.5 332,201.4 332.3,201.3 332.7,201.3 333.1,201.1 333.4,201 333.8,200.8 334.1,200.5 334.5,200.2 334.8,199.9 335.2,199.4 335.5,198.9 335.9,198.4 336.2,197.7 336.6,197 336.9,196.2 337.3,195.4 337.7,194.5 338,193.6 338.4,192.7 338.7,191.7 339.1,190.8 339.4,189.9 339.8,189.1 340.1,188.3 340.5,187.6 340.8,187 341.2,186.5 341.6,186.1 341.9,185.8 342.3,185.6 342.6,185.4 343,185.3 343.3,185.4 343.7,185.4 344,185.5 344.4,185.7 344.7,185.9 345.1,186.2 345.4,186.4 345.8,186.7 346.2,186.9 346.5,187.2 346.9,187.5 347.2,187.8 347.6,188.1 347.9,188.3 348.3,188.6 348.6,188.9 349,189.1 349.3,189.4 349.7,189.6 350,189.9 350.4,190.1 350.8,190.3 351.1,190.5 351.5,190.8 351.8,191 352.2,191.2 352.5,191.4 352.9,191.5 353.2,191.7 353.6,191.9 353.9,192.1 354.3,192.3 354.6,192.4 355,192.6 355.4,192.7 355.7,192.9 356.1,193 356.4,193.2 356.8,193.3 357.1,193.4 357.5,193.6 357.8,193.7 358.2,193.8 358.5,193.9 358.9,194.1 359.3,194.2 359.6,194.3 360,194.4 360.3,194.5 360.7,194.6 361,194.7 361.4,194.8 361.7,194.9 362.1,195 362.4,195.1 362.8,195.2 363.1,195.2 363.5,195.3 363.9,195.4 364.2,195.5 364.6,195.5 364.9,195.6 365.3,195.7 365.6,195.8 366,195.8 366.3,195.9 366.7,195.9 367,196 367.4,196.1 367.7,196.1 368.1,196.2 368.5,196.2 368.8,196.3 369.2,196.3 369.5,196.4 369.9,196.4 370.2,196.5 370.6,196.5 370.9,196.6 371.3,196.6 371.6,196.7 372,196.7 372.4,196.7 372.7,196.8 373.1,196.8 373.4,196.8 373.8,196.9 374.1,196.9 374.5,197 374.8,197 375.2,197 375.5,197 375.9,197.1 376.2,197.1 376.6,197.1 377,197.2 377.3,197.2 377.7,197.2 378,197.2 378.4,197.3 378.7,197.3 379.1,197.3 379.4,197.3 379.8,197.4 380.1,197.4 380.5,197.4 380.8,197.4 381.2,197.4 381.6,197.4 381.9,197.5 382.3,197.5 382.6,197.5 383,197.5 383.3,197.5 383.7,197.6 384,197.6 384.4,197.6 384.7,197.6 385.1,197.6 385.4,197.6 385.8,197.6 386.2,197.7 386.5,197.7 386.9,197.7 387.2,197.7 387.6,197.7 387.9,197.7 388.3,197.7 388.6,197.7 389,197.8 389.3,197.8 389.7,197.8 390.1,197.8 390.4,197.8 390.8,197.8 391.1,197.9 391.5,197.9 391.8,197.9 392.2,197.9 392.5,198 392.9,198 393.2,198 393.6,198.1 393.9,198.1 394.3,198.2 394.7,198.2 395,198.3 395.4,198.4 395.7,198.4 396.1,198.5 396.4,198.6 396.8,198.7 397.1,198.8 397.5,198.9 397.8,199 398.2,199.1 398.5,199.2 398.9,199.3 399.3,199.4 399.6,199.5 400,199.6 400.3,199.7 400.7,199.9 401,200 401.4,200.1 401.7,200.2 402.1,200.3 402.4,200.4 402.8,200.5 403.1,200.6 403.5,200.7 403.9,200.8 404.2,200.9 404.6,201 404.9,201 405.3,201.1 405.6,201.2 406,201.2 406.3,201.3 406.7,201.3 407,201.4 407.4,201.4 407.8,201.4 408.1,201.4 408.5,201.5 408.8,201.5 409.2,201.5 409.5,201.5 409.9,201.5" fill="none" stroke="#e07a3a" stroke-width="0.9"/>
<path d="M330.2,201.6 330.6,201.5 330.9,201.4 331.3,201.2 331.6,200.9 332,200.2 332.3,199.1 332.7,197.4 333.1,194.7 333.4,190.7 333.8,185.1 334.1,177.6 334.5,168.1 334.8,156.4 335.2,142.9 335.5,127.8 335.9,111.8 336.2,95.7 336.6,80.3 336.9,66.3 337.3,54.3 337.7,45 338,38.3 338.4,34.3 338.7,32.6 339.1,32.3 339.4,33 339.8,35.6 340.1,40.7 340.5,48.4 340.8,58.8 341.2,71.6 341.6,86.3 341.9,102.1 342.3,118.3 342.6,134 343,148.5 343.3,161.3 343.7,172.1 344,180.8 344.4,187.5 344.7,192.4 345.1,195.9 345.4,198.2 345.8,199.6 346.2,200.5 346.5,201 346.9,201.3 347.2,201.5 347.6,201.5 L347.6,201.6 L330.2,201.6 Z" fill="#96d796"/>
<path d="M384.7,201.5 385.1,201.5 385.4,201.5 385.8,201.5 386.2,201.4 386.5,201.3 386.9,201.2 387.2,201.1 387.6,201 387.9,200.8 388.3,200.5 388.6,200.2 389,199.8 389.3,199.4 389.7,198.8 390.1,198.1 390.4,197.3 390.8,196.4 391.1,195.3 391.5,194.1 391.8,192.7 392.2,191.2 392.5,189.4 392.9,187.6 393.2,185.5 393.6,183.4 393.9,181.2 394.3,178.8 394.7,176.5 395,174.2 395.4,171.9 395.7,169.7 396.1,167.7 396.4,165.9 396.8,164.3 397.1,163 397.5,162 397.8,161.3 398.2,161 398.5,161.1 398.9,161.4 399.3,161.9 399.6,162.7 400,163.8 400.3,165 400.7,166.4 401,168 401.4,169.7 401.7,171.6 402.1,173.5 402.4,175.4 402.8,177.4 403.1,179.3 403.5,181.3 403.9,183.2 404.2,185 404.6,186.7 404.9,188.3 405.3,189.9 405.6,191.3 406,192.6 406.3,193.8 406.7,194.9 407,195.8 407.4,196.7 407.8,197.5 408.1,198.1 408.5,198.7 408.8,199.2 409.2,199.6 409.5,200 409.9,200.3 410.2,200.5 410.6,200.7 410.9,200.9 411.3,201.1 411.6,201.2 412,201.3 412.4,201.3 412.7,201.4 413.1,201.4 413.4,201.5 413.8,201.5 414.1,201.5 L414.1,201.6 L384.7,201.6 Z" fill="#a5d7e1"/>
<path d="M330.9,201.5 331.3,201.5 331.6,201.5 332,201.4 332.3,201.3 332.7,201.3 333.1,201.1 333.4,201 333.8,200.8 334.1,200.5 334.5,200.2 334.8,199.9 335.2,199.4 335.5,198.9 335.9,198.4 336.2,197.7 336.6,197 336.9,196.2 337.3,195.4 337.7,194.5 338,193.6 338.4,192.7 338.7,191.7 339.1,190.8 339.4,189.9 339.8,189.1 340.1,188.3 340.5,187.6 340.8,187 341.2,186.5 341.6,186.1 341.9,185.8 342.3,185.6 342.6,185.4 343,185.3 343.3,185.4 343.7,185.4 344,185.5 344.4,187.5 344.7,192.4 345.1,195.9 345.4,198.2 345.8,199.6 346.2,200.5 346.5,201 346.9,201.3 347.2,201.5 347.6,201.5 L347.6,201.6 L330.9,201.6 Z" fill="#7dc85a"/>
<path d="M384.7,201.5 385.1,201.5 385.4,201.5 385.8,201.5 386.2,201.4 386.5,201.3 386.9,201.2 387.2,201.1 387.6,201 387.9,200.8 388.3,200.5 388.6,200.2 389,199.8 389.3,199.4 389.7,198.8 390.1,198.1 390.4,197.8 390.8,197.8 391.1,197.9 391.5,197.9 391.8,197.9 392.2,197.9 392.5,198 392.9,198 393.2,198 393.6,198.1 393.9,198.1 394.3,198.2 394.7,198.2 395,198.3 395.4,198.4 395.7,198.4 396.1,198.5 396.4,198.6 396.8,198.7 397.1,198.8 397.5,198.9 397.8,199 398.2,199.1 398.5,199.2 398.9,199.3 399.3,199.4 399.6,199.5 400,199.6 400.3,199.7 400.7,199.9 401,200 401.4,200.1 401.7,200.2 402.1,200.3 402.4,200.4 402.8,200.5 403.1,200.6 403.5,200.7 403.9,200.8 404.2,200.9 404.6,201 404.9,201 405.3,201.1 405.6,201.2 406,201.2 406.3,201.3 406.7,201.3 407,201.4 407.4,201.4 407.8,201.4 408.1,201.4 408.5,201.5 408.8,201.5 409.2,201.5 409.5,201.5 409.9,201.5 L409.9,201.6 L384.7,201.6 Z" fill="#8fd2bf"/>
<path d="M384.7,201.5 385.1,201.5 385.4,201.5 385.8,201.5 386.2,201.4 386.5,201.3 386.9,201.2 387.2,201.1 387.6,201 387.9,200.8 388.3,200.5 388.6,200.2 389,199.8 389.3,199.4 389.7,198.8 390.1,198.1 390.4,197.8 390.8,197.8 391.1,197.9 391.5,197.9 391.8,197.9 392.2,197.9 392.5,198 392.9,198 393.2,198 393.6,198.1 393.9,198.1 394.3,198.2 394.7,198.2 395,198.3 395.4,198.4 395.7,198.4 396.1,198.5 396.4,198.6 396.8,198.7 397.1,198.8 397.5,198.9 397.8,199 398.2,199.1 398.5,199.2 398.9,199.3 399.3,199.4 399.6,199.5 400,199.6 400.3,199.7 400.7,199.9 401,200 401.4,200.1 401.7,200.2 402.1,200.3 402.4,200.4 402.8,200.5 403.1,200.6 403.5,200.7 403.9,200.8 404.2,200.9 404.6,201 404.9,201 405.3,201.1 405.6,201.2 406,201.2 406.3,201.3 406.7,201.3 407,201.4 407.4,201.4 407.8,201.4 408.1,201.4 408.5,201.5 408.8,201.5 409.2,201.5 409.5,201.5 409.9,201.5" fill="none" stroke="#5cc24a" stroke-width="0.8"/>
<path d="M330.2,201.6 330.6,201.5 330.9,201.4 331.3,201.2 331.6,200.9 332,200.2 332.3,199.1 332.7,197.4 333.1,194.7 333.4,190.7 333.8,185.1 334.1,177.6 334.5,168.1 334.8,156.4 335.2,142.9 335.5,127.8 335.9,111.8 336.2,95.7 336.6,80.3 336.9,66.3 337.3,54.3 337.7,45 338,38.3 338.4,34.3 338.7,32.6 339.1,32.3 339.4,33 339.8,35.6 340.1,40.7 340.5,48.4 340.8,58.8 341.2,71.6 341.6,86.3 341.9,102.1 342.3,118.3 342.6,134 343,148.5 343.3,161.3 343.7,172.1 344,180.8 344.4,187.5 344.7,192.4 345.1,195.9 345.4,198.2 345.8,199.6 346.2,200.5 346.5,201 346.9,201.3 347.2,201.5 347.6,201.5" fill="none" stroke="#3dbb3d" stroke-width="0.9"/>
<path d="M334.8,154.2 335.2,139.9 335.5,123.8 335.9,106.7 336.2,89 336.6,71.8 336.9,55.8 337.3,41.8 337.7,30.2 338,21.5 338.4,20.5 338.7,20.5 339.1,20.5 339.4,20.5 339.8,20.5 340.1,20.5 340.5,27.3 340.8,38.4 341.2,52 341.6,67.4 341.9,83.9 342.3,100.6 342.6,116.7 343,131.6 343.3,144.7 L343.3,161.3 L343,148.5 L342.6,134 L342.3,118.3 L341.9,102.1 L341.6,86.3 L341.2,71.6 L340.8,58.8 L340.5,48.4 L340.1,40.7 L339.8,35.6 L339.4,33 L339.1,32.3 L338.7,32.6 L338.4,34.3 L338,38.3 L337.7,45 L337.3,54.3 L336.9,66.3 L336.6,80.3 L336.2,95.7 L335.9,111.8 L335.5,127.8 L335.2,142.9 L334.8,156.4 Z" fill="#c94cbe"/>
<path d="M275,201.6 275.4,201.6 275.7,201.6 276.1,201.6 276.4,201.6 276.8,201.6 277.1,201.6 277.5,201.6 277.8,201.6 278.2,201.6 278.5,201.6 278.9,201.6 279.2,201.6 279.6,201.6 280,201.6 280.3,201.6 280.7,201.6 281,201.6 281.4,201.6 281.7,201.6 282.1,201.6 282.4,201.6 282.8,201.6 283.1,201.6 283.5,201.6 283.9,201.6 284.2,201.6 284.6,201.6 284.9,201.6 285.3,201.6 285.6,201.6 286,201.6 286.3,201.6 286.7,201.6 287,201.6 287.4,201.6 287.7,201.6 288.1,201.6 288.5,201.6 288.8,201.6 289.2,201.6 289.5,201.6 289.9,201.6 290.2,201.6 290.6,201.6 290.9,201.6 291.3,201.6 291.6,201.6 292,201.6 292.3,201.6 292.7,201.6 293.1,201.6 293.4,201.6 293.8,201.6 294.1,201.6 294.5,201.6 294.8,201.6 295.2,201.6 295.5,201.6 295.9,201.6 296.2,201.6 296.6,201.6 296.9,201.6 297.3,201.6 297.7,201.6 298,201.6 298.4,201.6 298.7,201.6 299.1,201.6 299.4,201.6 299.8,201.6 300.1,201.6 300.5,201.6 300.8,201.6 301.2,201.6 301.6,201.6 301.9,201.6 302.3,201.6 302.6,201.6 303,201.6 303.3,201.6 303.7,201.6 304,201.6 304.4,201.6 304.7,201.6 305.1,201.6 305.4,201.6 305.8,201.6 306.2,201.6 306.5,201.6 306.9,201.6 307.2,201.6 307.6,201.6 307.9,201.6 308.3,201.6 308.6,201.6 309,201.6 309.3,201.6 309.7,201.6 310,201.6 310.4,201.6 310.8,201.6 311.1,201.6 311.5,201.6 311.8,201.6 312.2,201.6 312.5,201.6 312.9,201.6 313.2,201.6 313.6,201.6 313.9,201.6 314.3,201.6 314.6,201.6 315,201.6 315.4,201.6 315.7,201.6 316.1,201.6 316.4,201.6 316.8,201.6 317.1,201.6 317.5,201.6 317.8,201.6 318.2,201.6 318.5,201.6 318.9,201.6 319.2,201.6 319.6,201.6 320,201.6 320.3,201.6 320.7,201.6 321,201.6 321.4,201.6 321.7,201.6 322.1,201.6 322.4,201.6 322.8,201.6 323.1,201.6 323.5,201.6 323.9,201.6 324.2,201.6 324.6,201.6 324.9,201.6 325.3,201.6 325.6,201.6 326,201.6 326.3,201.6 326.7,201.6 327,201.6 327.4,201.6 327.7,201.6 328.1,201.6 328.5,201.6 328.8,201.6 329.2,201.6 329.5,201.6 329.9,201.6 330.2,201.6 330.6,201.5 330.9,201.5 331.3,201.4 331.6,201.2 332,200.8 332.3,200.2 332.7,199.2 333.1,197.5 333.4,194.9 333.8,191.1 334.1,185.6 334.5,178.3 334.8,168.9 335.2,157.3 335.5,143.5 335.9,128 336.2,111.1 336.6,93.7 336.9,76.5 337.3,60.3 337.7,45.9 338,33.8 338.4,24.5 338.7,20.5 339.1,20.5 339.4,20.5 339.8,20.5 340.1,20.5 340.5,20.5 340.8,25.9 341.2,36.2 341.6,49.1 341.9,63.9 342.3,80 342.6,96.6 343,112.8 343.3,127.9 343.7,141.4 344,153 344.4,162.4 344.7,169.9 345.1,175.4 345.4,179.5 345.8,182.3 346.2,184.3 346.5,185.5 346.9,186.3 347.2,186.9 347.6,187.4 347.9,187.8 348.3,187.9 348.6,188.1 349,188.3 349.3,188.5 349.7,189.1 350,189.4 350.4,189.5 350.8,189.9 351.1,189.9 351.5,190.5 351.8,190.6 352.2,190.7 352.5,190.8 352.9,190.6 353.2,190.9 353.6,190.9 353.9,191 354.3,191.2 354.6,191.4 355,191.7 355.4,191.8 355.7,192.2 356.1,192.7 356.4,192.7 356.8,193 357.1,193.3 357.5,193.4 357.8,193.4 358.2,193.6 358.5,193.6 358.9,193.6 359.3,193.7 359.6,193.9 360,194.1 360.3,194.2 360.7,194.2 361,194.3 361.4,194.3 361.7,194.7 362.1,194.8 362.4,195.1 362.8,195.1 363.1,194.9 363.5,195.1 363.9,195.4 364.2,195.3 364.6,195.4 364.9,195.4 365.3,195.4 365.6,195.3 366,195.5 366.3,195.8 366.7,195.8 367,195.9 367.4,196.2 367.7,196.1 368.1,196.1 368.5,196.1 368.8,196 369.2,196.1 369.5,196 369.9,195.9 370.2,196.1 370.6,196.1 370.9,196.5 371.3,196.5 371.6,196.9 372,197 372.4,197.1 372.7,197.1 373.1,197.2 373.4,196.8 373.8,196.8 374.1,196.7 374.5,196.8 374.8,196.7 375.2,196.9 375.5,197 375.9,196.9 376.2,197 376.6,197.3 377,197.3 377.3,197.2 377.7,197.1 378,197 378.4,197.1 378.7,197 379.1,197.4 379.4,197.7 379.8,197.8 380.1,197.7 380.5,198 380.8,198.1 381.2,198.1 381.6,198 381.9,197.7 382.3,197.6 382.6,197.2 383,196.9 383.3,197.3 383.7,197.2 384,197.2 384.4,197.5 384.7,197.2 385.1,197.4 385.4,197.2 385.8,197.3 386.2,197.3 386.5,196.9 386.9,196.8 387.2,196.7 387.6,196.3 387.9,196.5 388.3,196.6 388.6,196.4 389,196.2 389.3,195.8 389.7,195.5 390.1,195.1 390.4,194.3 390.8,193.8 391.1,192.9 391.5,191.8 391.8,190.6 392.2,189.3 392.5,187.8 392.9,186.2 393.2,184.4 393.6,182.5 393.9,180.4 394.3,178.2 394.7,176 395,173.7 395.4,171.4 395.7,169.2 396.1,167.1 396.4,165.1 396.8,163.3 397.1,161.7 397.5,160.4 397.8,159.4 398.2,158.8 398.5,158.5 398.9,158.6 399.3,159 399.6,159.6 400,160.4 400.3,161.5 400.7,162.8 401,164.3 401.4,166 401.7,167.8 402.1,169.7 402.4,171.6 402.8,173.7 403.1,175.7 403.5,177.7 403.9,179.7 404.2,181.6 404.6,183.4 404.9,185 405.3,186.6 405.6,188 406,189.2 406.3,190.3 406.7,191.3 407,192.2 407.4,192.9 407.8,193.6 408.1,194.2 408.5,194.7 408.8,195.1 409.2,195.6 409.5,195.9 409.9,196.3 410.2,196.6 410.6,196.9 410.9,197.1 411.3,197.3 411.6,197.5 412,197.6 412.4,197.7 412.7,197.9 413.1,197.9 413.4,198 413.8,198.1 414.1,198.1 414.5,198.2 414.8,198.2 415.2,198.3 415.5,198.3 415.9,198.4 416.2,198.4 416.6,198.4 417,198.4 417.3,198.5 417.7,198.5 418,198.5 418.4,198.6 418.7,198.6 419.1,198.6 419.4,198.6 419.8,198.7 420.1,198.7 420.5,198.7 420.8,198.7 421.2,198.8 421.6,198.8 421.9,198.8 422.3,198.8 422.6,198.9 423,198.9 423.3,198.9 423.7,199 424,199 424.4,199 424.7,199 425.1,199.1 425.4,199.1 425.8,199.1 426.2,199.1 426.5,199.2 426.9,199.2 427.2,199.2 427.6,199.3 427.9,199.4 428.3,199.5 428.6,199.7 429,199.9 429.3,200.2 429.7,200.5 430.1,200.8 430.4,201 430.8,201.2 431.1,201.4 431.5,201.5 431.8,201.5 432.2,201.6 432.5,201.6 432.9,201.6 433.2,201.6 433.6,201.6 433.9,201.6 434.3,201.6 434.7,201.6 435,201.6 435.4,201.6 435.7,201.6 436.1,201.6 436.4,201.6 436.8,201.6 437.1,201.6 437.5,201.6 437.8,201.6 438.2,201.6 438.5,201.6 438.9,201.6 439.3,201.6 439.6,201.6 440,201.6 440.3,201.6 440.7,201.6 441,201.6 441.4,201.6 441.7,201.6 442.1,201.6 442.4,201.6 442.8,201.6 443.1,201.6 443.5,201.6 443.9,201.6 444.2,201.6 444.6,201.6 444.9,201.6 445.3,201.6 445.6,201.6 446,201.6 446.3,201.6 446.7,201.6 447,201.6 447.4,201.6 447.8,201.6 448.1,201.6 448.5,201.6 448.8,201.6 449.2,201.6 449.5,201.6 449.9,201.6 450.2,201.6 450.6,201.6 450.9,201.6 451.3,201.6 451.6,201.6 452,201.6 452.4,201.6 452.7,201.6 453.1,201.6 453.4,201.6 453.8,201.6 454.1,201.6 454.5,201.6 454.8,201.6 455.2,201.6 455.5,201.6 455.9,201.6" fill="none" stroke="#0a0a0a" stroke-width="1.7" stroke-linejoin="round"/>
<path d="M330.6,201.5 330.9,201.4 331.3,201.1 331.6,200.7 332,200 332.3,198.9 332.7,197 333.1,194.2 333.4,190 333.8,184.2 334.1,176.4 334.5,166.4 334.8,154.2 335.2,139.9 335.5,123.8 335.9,106.7 336.2,89 336.6,71.8 336.9,55.8 337.3,41.8 337.7,30.2 338,21.5 338.4,20.5 338.7,20.5 339.1,20.5 339.4,20.5 339.8,20.5 340.1,20.5 340.5,27.3 340.8,38.4 341.2,52 341.6,67.4 341.9,83.9 342.3,100.6 342.6,116.7 343,131.6 343.3,144.7 343.7,155.7 344,164.7 344.4,171.6 344.7,176.7 345.1,180.4 345.4,183 345.8,184.7 346.2,185.9 346.5,186.7 346.9,187.2 347.2,187.7 347.6,188 347.9,188.3 348.3,188.6 348.6,188.9 349,189.1 349.3,189.4 349.7,189.6 350,189.9 350.4,190.1 350.8,190.3 351.1,190.5 351.5,190.8 351.8,191 352.2,191.2 352.5,191.4 352.9,191.5 353.2,191.7 353.6,191.9 353.9,192.1 354.3,192.3 354.6,192.4 355,192.6 355.4,192.7 355.7,192.9 356.1,193 356.4,193.2 356.8,193.3 357.1,193.4 357.5,193.6 357.8,193.7 358.2,193.8 358.5,193.9 358.9,194.1 359.3,194.2 359.6,194.3 360,194.4 360.3,194.5 360.7,194.6 361,194.7 361.4,194.8 361.7,194.9 362.1,195 362.4,195.1 362.8,195.2 363.1,195.2 363.5,195.3 363.9,195.4 364.2,195.5 364.6,195.5 364.9,195.6 365.3,195.7 365.6,195.8 366,195.8 366.3,195.9 366.7,195.9 367,196 367.4,196.1 367.7,196.1 368.1,196.2 368.5,196.2 368.8,196.3 369.2,196.3 369.5,196.4 369.9,196.4 370.2,196.5 370.6,196.5 370.9,196.6 371.3,196.6 371.6,196.7 372,196.7 372.4,196.7 372.7,196.8 373.1,196.8 373.4,196.8 373.8,196.9 374.1,196.9 374.5,197 374.8,197 375.2,197 375.5,197 375.9,197.1 376.2,197.1 376.6,197.1 377,197.2 377.3,197.2 377.7,197.2 378,197.2 378.4,197.3 378.7,197.3 379.1,197.3 379.4,197.3 379.8,197.4 380.1,197.4 380.5,197.4 380.8,197.4 381.2,197.4 381.6,197.4 381.9,197.5 382.3,197.5 382.6,197.5 383,197.5 383.3,197.5 383.7,197.5 384,197.5 384.4,197.5 384.7,197.5 385.1,197.5 385.4,197.5 385.8,197.5 386.2,197.5 386.5,197.4 386.9,197.3 387.2,197.2 387.6,197.1 387.9,196.9 388.3,196.7 388.6,196.4 389,196 389.3,195.5 389.7,195 390.1,194.3 390.4,193.6 390.8,192.7 391.1,191.6 391.5,190.4 391.8,189 392.2,187.5 392.5,185.8 392.9,184 393.2,182 393.6,179.9 393.9,177.7 394.3,175.4 394.7,173.1 395,170.9 395.4,168.7 395.7,166.5 396.1,164.6 396.4,162.8 396.8,161.3 397.1,160.1 397.5,159.2 397.8,158.7 398.2,158.5 398.5,158.6 398.9,159.1 399.3,159.7 399.6,160.7 400,161.8 400.3,163.2 400.7,164.7 401,166.4 401.4,168.2 401.7,170.2 402.1,172.2 402.4,174.2 402.8,176.3 403.1,178.4 403.5,180.4 403.9,182.4 404.2,184.3 404.6,186.1 404.9,187.8 405.3,189.4 405.6,190.9 406,192.2 406.3,193.5 406.7,194.6 407,195.6 407.4,196.5 407.8,197.3 408.1,198 408.5,198.6 408.8,199.1 409.2,199.5 409.5,199.9 409.9,200.2 410.2,200.5 410.6,200.7 410.9,200.9 411.3,201 411.6,201.1 412,201.2 412.4,201.3 412.7,201.4" fill="none" stroke="#c94cbe" stroke-width="1.25"/>
<path d="M398.2,161 398.5,161.1 398.9,161.4 399.3,161.9 399.6,162.7 400,163.8 400.3,165 400.7,166.4 401,168 401.4,169.7 401.7,171.6 402.1,173.5 402.4,175.4 402.8,177.4 403.1,179.3 403.5,181.3 403.9,183.2 404.2,185 404.6,186.7 404.9,188.3 405.3,189.9 405.6,191.3 406,192.6 406.3,193.8 406.7,194.9 407,195.8 407.4,196.7 407.8,197.5 408.1,198.1 408.5,198.7 408.8,199.2 409.2,199.6 409.5,200 409.9,200.3 410.2,200.5 410.6,200.7 410.9,200.9 411.3,201.1 411.6,201.2 412,201.3 412.4,201.3 412.7,201.4 413.1,201.4 413.4,201.5 413.8,201.5 414.1,201.5" fill="none" stroke="#4a6fd6" stroke-width="1"/>
<path d="M384.7,201.5 385.1,201.5 385.4,201.5 385.8,201.5 386.2,201.4 386.5,201.3 386.9,201.2 387.2,201.1 387.6,201 387.9,200.8 388.3,200.5 388.6,200.2 389,199.8 389.3,199.4 389.7,198.8 390.1,198.1 390.4,197.3 390.8,196.4 391.1,195.3 391.5,194.1 391.8,192.7 392.2,191.2 392.5,189.4 392.9,187.6 393.2,185.5 393.6,183.4 393.9,181.2 394.3,178.8 394.7,176.5 395,174.2 395.4,171.9 395.7,169.7 396.1,167.7 396.4,165.9 396.8,164.3 397.1,163 397.5,162 397.8,161.3 398.2,161 398.5,161.1" fill="none" stroke="#55c8dc" stroke-width="0.9"/>
<path d="M333.1,201.1 333.4,200.5 333.8,199.3 334.1,197.1 334.5,193.2 334.8,187 335.2,177.8 335.5,165.3 335.9,149.4 336.2,130.7 336.6,110.3 336.9,89.8 337.3,70.9 337.7,55 338,43.3 338.4,36 338.7,32.8 339.1,32.3 339.4,33.7 339.8,38.4 340.1,47.5 340.5,60.9 340.8,78.1 341.2,97.9 341.6,118.6 341.9,138.4 342.3,156.1 342.6,170.7 343,181.9 343.3,189.8 343.7,195 344,198.1 344.4,199.9 344.7,200.8 345.1,201.3" fill="none" stroke="#1d5a2a" stroke-width="1.1" stroke-dasharray="4,2.5"/>
<path d="M387.6,201 387.9,200.8 388.3,200.5 388.6,200.2 389,199.8 389.3,199.4 389.7,198.8 390.1,198.1 390.4,197.3 390.8,196.4 391.1,195.3 391.5,194.1 391.8,192.7 392.2,191.2 392.5,189.4 392.9,187.6 393.2,185.5 393.6,183.4 393.9,181.2 394.3,178.8 394.7,176.5 395,174.2 395.4,171.9 395.7,169.7 396.1,167.7 396.4,165.9 396.8,164.3 397.1,163 397.5,162 397.8,161.3 398.2,161 398.5,161.1 398.9,161.4 399.3,161.9 399.6,162.7 400,163.8 400.3,165 400.7,166.4 401,168 401.4,169.7 401.7,171.6 402.1,173.5 402.4,175.4 402.8,177.4 403.1,179.3 403.5,181.3 403.9,183.2 404.2,185 404.6,186.7 404.9,188.3 405.3,189.9 405.6,191.3 406,192.6 406.3,193.8 406.7,194.9 407,195.8 407.4,196.7 407.8,197.5 408.1,198.1 408.5,198.7 408.8,199.2 409.2,199.6 409.5,200 409.9,200.3 410.2,200.5 410.6,200.7 410.9,200.9" fill="none" stroke="#1a2a40" stroke-opacity="0.75" stroke-width="0.9" stroke-dasharray="2.5,2.5"/>
</g>
<line x1="275" y1="203.1" x2="456.6" y2="203.1" stroke="#48c8d6" stroke-width="1.1"/>
<line x1="275" y1="202.2" x2="456.6" y2="202.2" stroke="#1c2e24" stroke-width="0.9"/>
<line x1="274.3" y1="19.7" x2="456.6" y2="19.7" stroke="#6a6a6a" stroke-width="1.4"/>
<line x1="275" y1="19" x2="275" y2="202.1" stroke="#777" stroke-width="1.4"/>
<line x1="456.6" y1="19" x2="456.6" y2="202.5" stroke="#1a1a1a" stroke-width="1.4"/>
<line x1="270" y1="201.6" x2="275" y2="201.6" stroke="#333" stroke-width="1.2"/>
<text x="266.8" y="205.4" text-anchor="end" font-size="10.6" fill="#222">0</text>
<line x1="272.5" y1="189.9" x2="275" y2="189.9" stroke="#555" stroke-width="0.9"/>
<line x1="272.5" y1="178.2" x2="275" y2="178.2" stroke="#555" stroke-width="0.9"/>
<line x1="272.5" y1="166.6" x2="275" y2="166.6" stroke="#555" stroke-width="0.9"/>
<line x1="270" y1="154.9" x2="275" y2="154.9" stroke="#333" stroke-width="1.2"/>
<text x="266.8" y="158.7" text-anchor="end" font-size="10.6" fill="#222">200</text>
<line x1="272.5" y1="143.2" x2="275" y2="143.2" stroke="#555" stroke-width="0.9"/>
<line x1="272.5" y1="131.6" x2="275" y2="131.6" stroke="#555" stroke-width="0.9"/>
<line x1="272.5" y1="119.9" x2="275" y2="119.9" stroke="#555" stroke-width="0.9"/>
<line x1="270" y1="108.2" x2="275" y2="108.2" stroke="#333" stroke-width="1.2"/>
<text x="266.8" y="112" text-anchor="end" font-size="10.6" fill="#222">400</text>
<line x1="272.5" y1="96.5" x2="275" y2="96.5" stroke="#555" stroke-width="0.9"/>
<line x1="272.5" y1="84.8" x2="275" y2="84.8" stroke="#555" stroke-width="0.9"/>
<line x1="272.5" y1="73.2" x2="275" y2="73.2" stroke="#555" stroke-width="0.9"/>
<line x1="270" y1="61.5" x2="275" y2="61.5" stroke="#333" stroke-width="1.2"/>
<text x="266.8" y="65.3" text-anchor="end" font-size="10.6" fill="#222">600</text>
<line x1="272.5" y1="49.8" x2="275" y2="49.8" stroke="#555" stroke-width="0.9"/>
<line x1="272.5" y1="38.1" x2="275" y2="38.1" stroke="#555" stroke-width="0.9"/>
<line x1="272.5" y1="26.5" x2="275" y2="26.5" stroke="#555" stroke-width="0.9"/>
<line x1="275" y1="201.6" x2="275" y2="207.3" stroke="#333" stroke-width="1.2"/>
<text x="275.5" y="220.8" text-anchor="middle" font-size="10.6" fill="#222">0</text>
<line x1="283.9" y1="201.6" x2="283.9" y2="204.4" stroke="#555" stroke-width="0.9"/>
<line x1="292.7" y1="201.6" x2="292.7" y2="204.4" stroke="#555" stroke-width="0.9"/>
<line x1="301.6" y1="201.6" x2="301.6" y2="204.4" stroke="#555" stroke-width="0.9"/>
<line x1="310.4" y1="201.6" x2="310.4" y2="207.3" stroke="#333" stroke-width="1.2"/>
<text x="307.7" y="220.8" text-anchor="middle" font-size="10.6" fill="#222">200</text>
<line x1="319.2" y1="201.6" x2="319.2" y2="204.4" stroke="#555" stroke-width="0.9"/>
<line x1="328.1" y1="201.6" x2="328.1" y2="204.4" stroke="#555" stroke-width="0.9"/>
<line x1="336.9" y1="201.6" x2="336.9" y2="204.4" stroke="#555" stroke-width="0.9"/>
<line x1="345.8" y1="201.6" x2="345.8" y2="207.3" stroke="#333" stroke-width="1.2"/>
<text x="343.4" y="220.8" text-anchor="middle" font-size="10.6" fill="#222">400</text>
<line x1="354.6" y1="201.6" x2="354.6" y2="204.4" stroke="#555" stroke-width="0.9"/>
<line x1="363.5" y1="201.6" x2="363.5" y2="204.4" stroke="#555" stroke-width="0.9"/>
<line x1="372.4" y1="201.6" x2="372.4" y2="204.4" stroke="#555" stroke-width="0.9"/>
<line x1="381.2" y1="201.6" x2="381.2" y2="207.3" stroke="#333" stroke-width="1.2"/>
<text x="378.8" y="220.8" text-anchor="middle" font-size="10.6" fill="#222">600</text>
<line x1="390.1" y1="201.6" x2="390.1" y2="204.4" stroke="#555" stroke-width="0.9"/>
<line x1="398.9" y1="201.6" x2="398.9" y2="204.4" stroke="#555" stroke-width="0.9"/>
<line x1="407.8" y1="201.6" x2="407.8" y2="204.4" stroke="#555" stroke-width="0.9"/>
<line x1="416.6" y1="201.6" x2="416.6" y2="207.3" stroke="#333" stroke-width="1.2"/>
<text x="414.9" y="220.8" text-anchor="middle" font-size="10.6" fill="#222">800</text>
<line x1="425.4" y1="201.6" x2="425.4" y2="204.4" stroke="#555" stroke-width="0.9"/>
<line x1="434.3" y1="201.6" x2="434.3" y2="204.4" stroke="#555" stroke-width="0.9"/>
<line x1="443.1" y1="201.6" x2="443.1" y2="204.4" stroke="#555" stroke-width="0.9"/>
<line x1="452" y1="201.6" x2="452" y2="207.3" stroke="#333" stroke-width="1.2"/>
<text x="453.7" y="220.8" text-anchor="middle" font-size="10.6" fill="#222">1000</text>
<text x="369.8" y="9.7" text-anchor="middle" font-size="11.5" fill="#222">25 µM SM</text>
<text x="370.4" y="236.8" text-anchor="middle" font-size="11" fill="#222">FL2-A</text>
<text transform="translate(242.2,109.6) rotate(-90)" text-anchor="middle" font-size="11.2" fill="#222">Count</text>
<clipPath id="c506"><rect x="506" y="18.4" width="182.4" height="183.5"/></clipPath>
<g clip-path="url(#c506)">
<path d="M562.4,200.8 562.8,200.8 563.2,200.7 563.5,200.7 563.9,200.6 564.2,200.5 564.6,200.4 564.9,200.2 565.3,200.1 565.6,199.8 566,199.6 566.4,199.2 566.7,198.9 567.1,198.4 567.4,198 567.8,197.4 568.1,196.8 568.5,196.2 568.8,195.5 569.2,194.8 569.5,194.1 569.9,193.3 570.3,192.6 570.6,191.9 571,191.1 571.3,190.5 571.7,189.8 572,189.2 572.4,188.7 572.7,188.2 573.1,187.9 573.5,187.5 573.8,187.3 574.2,187.1 574.5,187 574.9,186.9 575.2,186.9 575.6,187 575.9,187 576.3,187.2 576.6,187.3 577,187.5 577.4,187.6 577.7,187.8 578.1,188 578.4,188.2 578.8,188.4 579.1,188.6 579.5,188.8 579.8,189 580.2,189.2 580.5,189.4 580.9,189.6 581.3,189.8 581.6,190 582,190.2 582.3,190.4 582.7,190.5 583,190.7 583.4,190.8 583.7,191 584.1,191.2 584.5,191.3 584.8,191.4 585.2,191.6 585.5,191.7 585.9,191.8 586.2,192 586.6,192.1 586.9,192.2 587.3,192.3 587.6,192.4 588,192.6 588.4,192.7 588.7,192.8 589.1,192.9 589.4,193 589.8,193.1 590.1,193.2 590.5,193.2 590.8,193.3 591.2,193.4 591.6,193.5 591.9,193.6 592.3,193.7 592.6,193.7 593,193.8 593.3,193.9 593.7,194 594,194 594.4,194.1 594.8,194.2 595.1,194.2 595.5,194.3 595.8,194.3 596.2,194.4 596.5,194.4 596.9,194.5 597.2,194.6 597.6,194.6 597.9,194.7 598.3,194.7 598.7,194.7 599,194.8 599.4,194.8 599.7,194.9 600.1,194.9 600.4,195 600.8,195 601.1,195 601.5,195.1 601.9,195.1 602.2,195.1 602.6,195.2 602.9,195.2 603.3,195.2 603.6,195.3 604,195.3 604.3,195.3 604.7,195.4 605,195.4 605.4,195.4 605.8,195.5 606.1,195.5 606.5,195.5 606.8,195.5 607.2,195.5 607.5,195.6 607.9,195.6 608.2,195.6 608.6,195.6 609,195.7 609.3,195.7 609.7,195.7 610,195.7 610.4,195.7 610.7,195.8 611.1,195.8 611.4,195.8 611.8,195.8 612.1,195.8 612.5,195.8 612.9,195.8 613.2,195.9 613.6,195.9 613.9,195.9 614.3,195.9 614.6,195.9 615,195.9 615.3,195.9 615.7,196 616,196 616.4,196 616.8,196 617.1,196 617.5,196 617.8,196 618.2,196 618.5,196.1 618.9,196.1 619.2,196.1 619.6,196.1 620,196.1 620.3,196.1 620.7,196.1 621,196.2 621.4,196.2 621.7,196.2 622.1,196.2 622.4,196.3 622.8,196.3 623.1,196.3 623.5,196.4 623.9,196.4 624.2,196.5 624.6,196.5 624.9,196.6 625.3,196.7 625.6,196.8 626,196.8 626.3,196.9 626.7,197 627.1,197.1 627.4,197.2 627.8,197.4 628.1,197.5 628.5,197.6 628.8,197.8 629.2,197.9 629.5,198 629.9,198.2 630.2,198.3 630.6,198.5 631,198.6 631.3,198.8 631.7,198.9 632,199.1 632.4,199.2 632.7,199.3 633.1,199.5 633.4,199.6 633.8,199.7 634.2,199.8 634.5,199.9 634.9,200 635.2,200.1 635.6,200.2 635.9,200.3 636.3,200.4 636.6,200.5 637,200.5 637.4,200.6 637.7,200.6 638.1,200.7 638.4,200.7 638.8,200.7 639.1,200.8 639.5,200.8 639.8,200.8 640.2,200.8 L640.2,200.9 L562.4,200.9 Z" fill="#dcda96"/>
<path d="M562.4,200.8 562.8,200.8 563.2,200.7 563.5,200.7 563.9,200.6 564.2,200.5 564.6,200.4 564.9,200.2 565.3,200.1 565.6,199.8 566,199.6 566.4,199.2 566.7,198.9 567.1,198.4 567.4,198 567.8,197.4 568.1,196.8 568.5,196.2 568.8,195.5 569.2,194.8 569.5,194.1 569.9,193.3 570.3,192.6 570.6,191.9 571,191.1 571.3,190.5 571.7,189.8 572,189.2 572.4,188.7 572.7,188.2 573.1,187.9 573.5,187.5 573.8,187.3 574.2,187.1 574.5,187 574.9,186.9 575.2,186.9 575.6,187 575.9,187 576.3,187.2 576.6,187.3 577,187.5 577.4,187.6 577.7,187.8 578.1,188 578.4,188.2 578.8,188.4 579.1,188.6 579.5,188.8 579.8,189 580.2,189.2 580.5,189.4 580.9,189.6 581.3,189.8 581.6,190 582,190.2 582.3,190.4 582.7,190.5 583,190.7 583.4,190.8 583.7,191 584.1,191.2 584.5,191.3 584.8,191.4 585.2,191.6 585.5,191.7 585.9,191.8 586.2,192 586.6,192.1 586.9,192.2 587.3,192.3 587.6,192.4 588,192.6 588.4,192.7 588.7,192.8 589.1,192.9 589.4,193 589.8,193.1 590.1,193.2 590.5,193.2 590.8,193.3 591.2,193.4 591.6,193.5 591.9,193.6 592.3,193.7 592.6,193.7 593,193.8 593.3,193.9 593.7,194 594,194 594.4,194.1 594.8,194.2 595.1,194.2 595.5,194.3 595.8,194.3 596.2,194.4 596.5,194.4 596.9,194.5 597.2,194.6 597.6,194.6 597.9,194.7 598.3,194.7 598.7,194.7 599,194.8 599.4,194.8 599.7,194.9 600.1,194.9 600.4,195 600.8,195 601.1,195 601.5,195.1 601.9,195.1 602.2,195.1 602.6,195.2 602.9,195.2 603.3,195.2 603.6,195.3 604,195.3 604.3,195.3 604.7,195.4 605,195.4 605.4,195.4 605.8,195.5 606.1,195.5 606.5,195.5 606.8,195.5 607.2,195.5 607.5,195.6 607.9,195.6 608.2,195.6 608.6,195.6 609,195.7 609.3,195.7 609.7,195.7 610,195.7 610.4,195.7 610.7,195.8 611.1,195.8 611.4,195.8 611.8,195.8 612.1,195.8 612.5,195.8 612.9,195.8 613.2,195.9 613.6,195.9 613.9,195.9 614.3,195.9 614.6,195.9 615,195.9 615.3,195.9 615.7,196 616,196 616.4,196 616.8,196 617.1,196 617.5,196 617.8,196 618.2,196 618.5,196.1 618.9,196.1 619.2,196.1 619.6,196.1 620,196.1 620.3,196.1 620.7,196.1 621,196.2 621.4,196.2 621.7,196.2 622.1,196.2 622.4,196.3 622.8,196.3 623.1,196.3 623.5,196.4 623.9,196.4 624.2,196.5 624.6,196.5 624.9,196.6 625.3,196.7 625.6,196.8 626,196.8 626.3,196.9 626.7,197 627.1,197.1 627.4,197.2 627.8,197.4 628.1,197.5 628.5,197.6 628.8,197.8 629.2,197.9 629.5,198 629.9,198.2 630.2,198.3 630.6,198.5 631,198.6 631.3,198.8 631.7,198.9 632,199.1 632.4,199.2 632.7,199.3 633.1,199.5 633.4,199.6 633.8,199.7 634.2,199.8 634.5,199.9 634.9,200 635.2,200.1 635.6,200.2 635.9,200.3 636.3,200.4 636.6,200.5 637,200.5 637.4,200.6 637.7,200.6 638.1,200.7 638.4,200.7 638.8,200.7 639.1,200.8 639.5,200.8 639.8,200.8 640.2,200.8" fill="none" stroke="#e07a3a" stroke-width="0.9"/>
<path d="M561.4,200.9 561.7,200.8 562.1,200.7 562.4,200.5 562.8,200.2 563.2,199.6 563.5,198.6 563.9,197.1 564.2,194.8 564.6,191.4 564.9,186.8 565.3,180.6 565.6,172.7 566,163.1 566.4,151.7 566.7,138.9 567.1,125.1 567.4,110.7 567.8,96.4 568.1,82.8 568.5,70.6 568.8,60.2 569.2,52 569.5,46.1 569.9,42.4 570.3,40.7 570.6,40.3 571,40.7 571.3,42.4 571.7,46.1 572,52 572.4,60.2 572.7,70.6 573.1,82.8 573.5,96.4 573.8,110.7 574.2,125.1 574.5,138.9 574.9,151.7 575.2,163.1 575.6,172.7 575.9,180.6 576.3,186.8 576.6,191.4 577,194.8 577.4,197.1 577.7,198.6 578.1,199.6 578.4,200.2 578.8,200.5 579.1,200.7 579.5,200.8 579.8,200.9 L579.8,200.9 L561.4,200.9 Z" fill="#96d796"/>
<path d="M615.3,200.8 615.7,200.8 616,200.7 616.4,200.7 616.8,200.6 617.1,200.5 617.5,200.4 617.8,200.2 618.2,200 618.5,199.7 618.9,199.4 619.2,199 619.6,198.4 620,197.8 620.3,197.1 620.7,196.2 621,195.1 621.4,193.9 621.7,192.5 622.1,190.9 622.4,189.1 622.8,187.1 623.1,184.9 623.5,182.6 623.9,180.1 624.2,177.4 624.6,174.7 624.9,171.9 625.3,169.1 625.6,166.3 626,163.7 626.3,161.2 626.7,158.9 627.1,156.9 627.4,155.2 627.8,153.9 628.1,153 628.5,152.5 628.8,152.4 629.2,152.6 629.5,153.1 629.9,153.8 630.2,154.8 630.6,156 631,157.5 631.3,159.1 631.7,160.8 632,162.7 632.4,164.7 632.7,166.8 633.1,169 633.4,171.1 633.8,173.3 634.2,175.5 634.5,177.6 634.9,179.7 635.2,181.6 635.6,183.5 635.9,185.3 636.3,187 636.6,188.6 637,190 637.4,191.4 637.7,192.6 638.1,193.7 638.4,194.7 638.8,195.5 639.1,196.3 639.5,197 639.8,197.6 640.2,198.2 640.5,198.6 640.9,199 641.3,199.3 641.6,199.6 642,199.8 642.3,200 642.7,200.2 643,200.3 643.4,200.5 643.7,200.5 644.1,200.6 644.5,200.7 644.8,200.7 645.2,200.8 645.5,200.8 645.9,200.8 L645.9,200.9 L615.3,200.9 Z" fill="#a5d7e1"/>
<path d="M562.4,200.8 562.8,200.8 563.2,200.7 563.5,200.7 563.9,200.6 564.2,200.5 564.6,200.4 564.9,200.2 565.3,200.1 565.6,199.8 566,199.6 566.4,199.2 566.7,198.9 567.1,198.4 567.4,198 567.8,197.4 568.1,196.8 568.5,196.2 568.8,195.5 569.2,194.8 569.5,194.1 569.9,193.3 570.3,192.6 570.6,191.9 571,191.1 571.3,190.5 571.7,189.8 572,189.2 572.4,188.7 572.7,188.2 573.1,187.9 573.5,187.5 573.8,187.3 574.2,187.1 574.5,187 574.9,186.9 575.2,186.9 575.6,187 575.9,187 576.3,187.2 576.6,191.4 577,194.8 577.4,197.1 577.7,198.6 578.1,199.6 578.4,200.2 578.8,200.5 579.1,200.7 579.5,200.8 579.8,200.9 L579.8,200.9 L562.4,200.9 Z" fill="#7dc85a"/>
<path d="M615.3,200.8 615.7,200.8 616,200.7 616.4,200.7 616.8,200.6 617.1,200.5 617.5,200.4 617.8,200.2 618.2,200 618.5,199.7 618.9,199.4 619.2,199 619.6,198.4 620,197.8 620.3,197.1 620.7,196.2 621,196.2 621.4,196.2 621.7,196.2 622.1,196.2 622.4,196.3 622.8,196.3 623.1,196.3 623.5,196.4 623.9,196.4 624.2,196.5 624.6,196.5 624.9,196.6 625.3,196.7 625.6,196.8 626,196.8 626.3,196.9 626.7,197 627.1,197.1 627.4,197.2 627.8,197.4 628.1,197.5 628.5,197.6 628.8,197.8 629.2,197.9 629.5,198 629.9,198.2 630.2,198.3 630.6,198.5 631,198.6 631.3,198.8 631.7,198.9 632,199.1 632.4,199.2 632.7,199.3 633.1,199.5 633.4,199.6 633.8,199.7 634.2,199.8 634.5,199.9 634.9,200 635.2,200.1 635.6,200.2 635.9,200.3 636.3,200.4 636.6,200.5 637,200.5 637.4,200.6 637.7,200.6 638.1,200.7 638.4,200.7 638.8,200.7 639.1,200.8 639.5,200.8 639.8,200.8 640.2,200.8 L640.2,200.9 L615.3,200.9 Z" fill="#8fd2bf"/>
<path d="M615.3,200.8 615.7,200.8 616,200.7 616.4,200.7 616.8,200.6 617.1,200.5 617.5,200.4 617.8,200.2 618.2,200 618.5,199.7 618.9,199.4 619.2,199 619.6,198.4 620,197.8 620.3,197.1 620.7,196.2 621,196.2 621.4,196.2 621.7,196.2 622.1,196.2 622.4,196.3 622.8,196.3 623.1,196.3 623.5,196.4 623.9,196.4 624.2,196.5 624.6,196.5 624.9,196.6 625.3,196.7 625.6,196.8 626,196.8 626.3,196.9 626.7,197 627.1,197.1 627.4,197.2 627.8,197.4 628.1,197.5 628.5,197.6 628.8,197.8 629.2,197.9 629.5,198 629.9,198.2 630.2,198.3 630.6,198.5 631,198.6 631.3,198.8 631.7,198.9 632,199.1 632.4,199.2 632.7,199.3 633.1,199.5 633.4,199.6 633.8,199.7 634.2,199.8 634.5,199.9 634.9,200 635.2,200.1 635.6,200.2 635.9,200.3 636.3,200.4 636.6,200.5 637,200.5 637.4,200.6 637.7,200.6 638.1,200.7 638.4,200.7 638.8,200.7 639.1,200.8 639.5,200.8 639.8,200.8 640.2,200.8" fill="none" stroke="#5cc24a" stroke-width="0.8"/>
<path d="M561.4,200.9 561.7,200.8 562.1,200.7 562.4,200.5 562.8,200.2 563.2,199.6 563.5,198.6 563.9,197.1 564.2,194.8 564.6,191.4 564.9,186.8 565.3,180.6 565.6,172.7 566,163.1 566.4,151.7 566.7,138.9 567.1,125.1 567.4,110.7 567.8,96.4 568.1,82.8 568.5,70.6 568.8,60.2 569.2,52 569.5,46.1 569.9,42.4 570.3,40.7 570.6,40.3 571,40.7 571.3,42.4 571.7,46.1 572,52 572.4,60.2 572.7,70.6 573.1,82.8 573.5,96.4 573.8,110.7 574.2,125.1 574.5,138.9 574.9,151.7 575.2,163.1 575.6,172.7 575.9,180.6 576.3,186.8 576.6,191.4 577,194.8 577.4,197.1 577.7,198.6 578.1,199.6 578.4,200.2 578.8,200.5 579.1,200.7 579.5,200.8 579.8,200.9" fill="none" stroke="#3dbb3d" stroke-width="0.9"/>
<path d="M566,161.7 566.4,150 566.7,136.8 567.1,122.5 567.4,107.6 567.8,92.7 568.1,78.5 568.5,65.5 568.8,54.4 569.2,45.3 569.5,38.6 569.9,34.1 570.3,31.5 570.6,30.4 571,30.1 571.3,31.2 571.7,34.3 572,39.7 572.4,47.5 572.7,57.5 573.1,69.5 573.5,82.8 573.8,96.9 574.2,111.2 574.5,124.9 574.9,137.7 575.2,149.1 L575.2,163.1 L574.9,151.7 L574.5,138.9 L574.2,125.1 L573.8,110.7 L573.5,96.4 L573.1,82.8 L572.7,70.6 L572.4,60.2 L572,52 L571.7,46.1 L571.3,42.4 L571,40.7 L570.6,40.3 L570.3,40.7 L569.9,42.4 L569.5,46.1 L569.2,52 L568.8,60.2 L568.5,70.6 L568.1,82.8 L567.8,96.4 L567.4,110.7 L567.1,125.1 L566.7,138.9 L566.4,151.7 L566,163.1 Z" fill="#c94cbe"/>
<path d="M506,200.9 506.4,200.9 506.7,200.9 507.1,200.9 507.4,200.9 507.8,200.9 508.1,200.9 508.5,200.9 508.8,200.9 509.2,200.9 509.6,200.9 509.9,200.9 510.3,200.9 510.6,200.9 511,200.9 511.3,200.9 511.7,200.9 512,200.9 512.4,200.9 512.7,200.9 513.1,200.9 513.5,200.9 513.8,200.9 514.2,200.9 514.5,200.9 514.9,200.9 515.2,200.9 515.6,200.9 515.9,200.9 516.3,200.9 516.6,200.9 517,200.9 517.4,200.9 517.7,200.9 518.1,200.9 518.4,200.9 518.8,200.9 519.1,200.9 519.5,200.9 519.8,200.9 520.2,200.9 520.6,200.9 520.9,200.9 521.3,200.9 521.6,200.9 522,200.9 522.3,200.9 522.7,200.9 523,200.9 523.4,200.9 523.8,200.9 524.1,200.9 524.5,200.9 524.8,200.9 525.2,200.9 525.5,200.9 525.9,200.9 526.2,200.9 526.6,200.9 526.9,200.9 527.3,200.9 527.7,200.9 528,200.9 528.4,200.9 528.7,200.9 529.1,200.9 529.4,200.9 529.8,200.9 530.1,200.9 530.5,200.9 530.9,200.9 531.2,200.9 531.6,200.9 531.9,200.9 532.3,200.9 532.6,200.9 533,200.9 533.3,200.9 533.7,200.9 534,200.9 534.4,200.9 534.8,200.9 535.1,200.9 535.5,200.9 535.8,200.9 536.2,200.9 536.5,200.9 536.9,200.9 537.2,200.9 537.6,200.9 538,200.9 538.3,200.9 538.7,200.9 539,200.9 539.4,200.9 539.7,200.9 540.1,200.9 540.4,200.9 540.8,200.9 541.1,200.9 541.5,200.9 541.9,200.9 542.2,200.9 542.6,200.9 542.9,200.9 543.3,200.9 543.6,200.9 544,200.9 544.3,200.9 544.7,200.9 545,200.9 545.4,200.9 545.8,200.9 546.1,200.9 546.5,200.9 546.8,200.9 547.2,200.9 547.5,200.9 547.9,200.9 548.2,200.9 548.6,200.9 549,200.9 549.3,200.9 549.7,200.9 550,200.9 550.4,200.9 550.7,200.9 551.1,200.9 551.4,200.9 551.8,200.9 552.1,200.9 552.5,200.9 552.9,200.9 553.2,200.9 553.6,200.9 553.9,200.9 554.3,200.9 554.6,200.9 555,200.9 555.3,200.9 555.7,200.9 556.1,200.9 556.4,200.9 556.8,200.9 557.1,200.9 557.5,200.9 557.8,200.9 558.2,200.9 558.5,200.9 558.9,200.9 559.2,200.9 559.6,200.9 560,200.9 560.3,200.9 560.7,200.9 561,200.9 561.4,200.9 561.7,200.8 562.1,200.8 562.4,200.7 562.8,200.5 563.2,200.1 563.5,199.6 563.9,198.6 564.2,197.2 564.6,195 564.9,191.8 565.3,187.3 565.6,181.3 566,173.7 566.4,164.2 566.7,153 567.1,140.1 567.4,126.1 567.8,111.3 568.1,96.4 568.5,82 568.8,68.8 569.2,57.2 569.5,47.7 569.9,40.4 570.3,35.3 570.6,32.3 571,30.8 571.3,30.3 571.7,31 572,33.6 572.4,38.5 572.7,45.6 573.1,55.1 573.5,66.5 573.8,79.5 574.2,93.4 574.5,107.6 574.9,121.5 575.2,134.5 575.6,146.2 575.9,156.3 576.3,164.7 576.6,171.5 577,176.6 577.4,180.4 577.7,183.2 578.1,185.1 578.4,186.4 578.8,187.3 579.1,187.7 579.5,188.1 579.8,188.2 580.2,188.3 580.5,188.5 580.9,188.7 581.3,188.8 581.6,189.2 582,189.7 582.3,190.1 582.7,190.1 583,190.3 583.4,190.6 583.7,190.7 584.1,190.9 584.5,191.2 584.8,191.4 585.2,191.3 585.5,191.5 585.9,191.5 586.2,191.6 586.6,191.5 586.9,191.5 587.3,191.3 587.6,191.2 588,191.4 588.4,191.8 588.7,192.1 589.1,192.2 589.4,192.4 589.8,192.5 590.1,192.8 590.5,192.9 590.8,193.2 591.2,193.1 591.6,192.6 591.9,192.9 592.3,193.1 592.6,192.9 593,193.2 593.3,193.4 593.7,193.7 594,193.9 594.4,193.8 594.8,194 595.1,193.7 595.5,193.4 595.8,193.6 596.2,193.4 596.5,193.2 596.9,193.5 597.2,193.1 597.6,193.5 597.9,193.8 598.3,194 598.7,194.1 599,194.3 599.4,194.2 599.7,194.3 600.1,194.1 600.4,194.3 600.8,194.2 601.1,194.2 601.5,194.4 601.9,194.9 602.2,195 602.6,195 602.9,195.2 603.3,195 603.6,195 604,195 604.3,195.3 604.7,194.9 605,194.4 605.4,194.4 605.8,194.7 606.1,194.9 606.5,195.1 606.8,195.1 607.2,195.1 607.5,195.2 607.9,195.8 608.2,196.1 608.6,195.9 609,196 609.3,195.5 609.7,196 610,195.8 610.4,195.9 610.7,195.8 611.1,195.3 611.4,195.5 611.8,195.7 612.1,195.7 612.5,195.7 612.9,195.2 613.2,195.4 613.6,195.6 613.9,195.4 614.3,195.4 614.6,195.1 615,195.3 615.3,195 615.7,195.1 616,195.2 616.4,195.5 616.8,195.2 617.1,195.4 617.5,195.7 617.8,195.5 618.2,195.2 618.5,194.9 618.9,194.7 619.2,194.4 619.6,193.8 620,193.2 620.3,192.3 620.7,191.7 621,191.1 621.4,190.2 621.7,189.2 622.1,187.9 622.4,186.5 622.8,184.8 623.1,183 623.5,180.9 623.9,178.6 624.2,176.2 624.6,173.6 624.9,171 625.3,168.3 625.6,165.5 626,162.9 626.3,160.3 626.7,157.8 627.1,155.6 627.4,153.6 627.8,152 628.1,150.7 628.5,149.8 628.8,149.3 629.2,149.2 629.5,149.5 629.9,150.1 630.2,150.9 630.6,152 631,153.3 631.3,154.8 631.7,156.5 632,158.4 632.4,160.4 632.7,162.5 633.1,164.7 633.4,166.9 633.8,169.2 634.2,171.4 634.5,173.6 634.9,175.7 635.2,177.8 635.6,179.7 635.9,181.5 636.3,183.2 636.6,184.7 637,186.1 637.4,187.4 637.7,188.5 638.1,189.5 638.4,190.5 638.8,191.4 639.1,192.1 639.5,192.9 639.8,193.5 640.2,194.1 640.5,194.6 640.9,195.1 641.3,195.5 641.6,195.9 642,196.2 642.3,196.5 642.7,196.7 643,196.9 643.4,197.1 643.7,197.2 644.1,197.4 644.5,197.5 644.8,197.6 645.2,197.6 645.5,197.7 645.9,197.8 646.2,197.8 646.6,197.8 646.9,197.9 647.3,197.9 647.6,198 648,198 648.4,198 648.7,198.1 649.1,198.1 649.4,198.1 649.8,198.1 650.1,198.2 650.5,198.2 650.8,198.2 651.2,198.2 651.5,198.3 651.9,198.3 652.3,198.3 652.6,198.3 653,198.4 653.3,198.4 653.7,198.4 654,198.4 654.4,198.5 654.7,198.5 655.1,198.6 655.5,198.6 655.8,198.7 656.2,198.8 656.5,198.9 656.9,199 657.2,199.1 657.6,199.3 657.9,199.5 658.3,199.6 658.6,199.8 659,200 659.4,200.2 659.7,200.3 660.1,200.5 660.4,200.6 660.8,200.7 661.1,200.7 661.5,200.8 661.8,200.8 662.2,200.9 662.6,200.9 662.9,200.9 663.3,200.9 663.6,200.9 664,200.9 664.3,200.9 664.7,200.9 665,200.9 665.4,200.9 665.8,200.9 666.1,200.9 666.5,200.9 666.8,200.9 667.2,200.9 667.5,200.9 667.9,200.9 668.2,200.9 668.6,200.9 668.9,200.9 669.3,200.9 669.7,200.9 670,200.9 670.4,200.9 670.7,200.9 671.1,200.9 671.4,200.9 671.8,200.9 672.1,200.9 672.5,200.9 672.9,200.9 673.2,200.9 673.6,200.9 673.9,200.9 674.3,200.9 674.6,200.9 675,200.9 675.3,200.9 675.7,200.9 676,200.9 676.4,200.9 676.8,200.9 677.1,200.9 677.5,200.9 677.8,200.9 678.2,200.9 678.5,200.9 678.9,200.9 679.2,200.9 679.6,200.9 680,200.9 680.3,200.9 680.7,200.9 681,200.9 681.4,200.9 681.7,200.9 682.1,200.9 682.4,200.9 682.8,200.9 683.1,200.9 683.5,200.9 683.9,200.9 684.2,200.9 684.6,200.9 684.9,200.9 685.3,200.9 685.6,200.9 686,200.9 686.3,200.9 686.7,200.9 687,200.9 687.4,200.9" fill="none" stroke="#0a0a0a" stroke-width="1.7" stroke-linejoin="round"/>
<path d="M562.1,200.6 562.4,200.4 562.8,200.1 563.2,199.4 563.5,198.4 563.9,196.8 564.2,194.4 564.6,190.9 564.9,186.1 565.3,179.7 565.6,171.6 566,161.7 566.4,150 566.7,136.8 567.1,122.5 567.4,107.6 567.8,92.7 568.1,78.5 568.5,65.5 568.8,54.4 569.2,45.3 569.5,38.6 569.9,34.1 570.3,31.5 570.6,30.4 571,30.1 571.3,31.2 571.7,34.3 572,39.7 572.4,47.5 572.7,57.5 573.1,69.5 573.5,82.8 573.8,96.9 574.2,111.2 574.5,124.9 574.9,137.7 575.2,149.1 575.6,158.8 575.9,166.7 576.3,173 576.6,177.8 577,181.3 577.4,183.8 577.7,185.5 578.1,186.7 578.4,187.5 578.8,188 579.1,188.4 579.5,188.7 579.8,189 580.2,189.2 580.5,189.4 580.9,189.6 581.3,189.8 581.6,190 582,190.2 582.3,190.4 582.7,190.5 583,190.7 583.4,190.8 583.7,191 584.1,191.2 584.5,191.3 584.8,191.4 585.2,191.6 585.5,191.7 585.9,191.8 586.2,192 586.6,192.1 586.9,192.2 587.3,192.3 587.6,192.4 588,192.6 588.4,192.7 588.7,192.8 589.1,192.9 589.4,193 589.8,193.1 590.1,193.2 590.5,193.2 590.8,193.3 591.2,193.4 591.6,193.5 591.9,193.6 592.3,193.7 592.6,193.7 593,193.8 593.3,193.9 593.7,194 594,194 594.4,194.1 594.8,194.2 595.1,194.2 595.5,194.3 595.8,194.3 596.2,194.4 596.5,194.4 596.9,194.5 597.2,194.6 597.6,194.6 597.9,194.7 598.3,194.7 598.7,194.7 599,194.8 599.4,194.8 599.7,194.9 600.1,194.9 600.4,195 600.8,195 601.1,195 601.5,195.1 601.9,195.1 602.2,195.1 602.6,195.2 602.9,195.2 603.3,195.2 603.6,195.3 604,195.3 604.3,195.3 604.7,195.4 605,195.4 605.4,195.4 605.8,195.5 606.1,195.5 606.5,195.5 606.8,195.5 607.2,195.5 607.5,195.6 607.9,195.6 608.2,195.6 608.6,195.6 609,195.7 609.3,195.7 609.7,195.7 610,195.7 610.4,195.7 610.7,195.8 611.1,195.8 611.4,195.8 611.8,195.8 612.1,195.8 612.5,195.8 612.9,195.8 613.2,195.9 613.6,195.9 613.9,195.9 614.3,195.9 614.6,195.9 615,195.9 615.3,195.9 615.7,195.8 616,195.8 616.4,195.8 616.8,195.7 617.1,195.6 617.5,195.5 617.8,195.3 618.2,195.1 618.5,194.9 618.9,194.5 619.2,194.1 619.6,193.6 620,193 620.3,192.3 620.7,191.4 621,190.4 621.4,189.2 621.7,187.8 622.1,186.2 622.4,184.5 622.8,182.5 623.1,180.4 623.5,178 623.9,175.6 624.2,173 624.6,170.3 624.9,167.6 625.3,164.9 625.6,162.2 626,159.6 626.3,157.2 626.7,155 627.1,153.1 627.4,151.6 627.8,150.4 628.1,149.6 628.5,149.2 628.8,149.2 629.2,149.6 629.5,150.2 629.9,151.1 630.2,152.2 630.6,153.6 631,155.2 631.3,156.9 631.7,158.8 632,160.9 632.4,163 632.7,165.3 633.1,167.5 633.4,169.8 633.8,172.1 634.2,174.4 634.5,176.6 634.9,178.8 635.2,180.9 635.6,182.9 635.9,184.7 636.3,186.5 636.6,188.1 637,189.6 637.4,191 637.7,192.3 638.1,193.4 638.4,194.5 638.8,195.4 639.1,196.2 639.5,196.9 639.8,197.5 640.2,198.1 640.5,198.5 640.9,198.9 641.3,199.3 641.6,199.6 642,199.8 642.3,200 642.7,200.2 643,200.3 643.4,200.4 643.7,200.5 644.1,200.6" fill="none" stroke="#c94cbe" stroke-width="1.25"/>
<path d="M628.5,152.5 628.8,152.4 629.2,152.6 629.5,153.1 629.9,153.8 630.2,154.8 630.6,156 631,157.5 631.3,159.1 631.7,160.8 632,162.7 632.4,164.7 632.7,166.8 633.1,169 633.4,171.1 633.8,173.3 634.2,175.5 634.5,177.6 634.9,179.7 635.2,181.6 635.6,183.5 635.9,185.3 636.3,187 636.6,188.6 637,190 637.4,191.4 637.7,192.6 638.1,193.7 638.4,194.7 638.8,195.5 639.1,196.3 639.5,197 639.8,197.6 640.2,198.2 640.5,198.6 640.9,199 641.3,199.3 641.6,199.6 642,199.8 642.3,200 642.7,200.2 643,200.3 643.4,200.5 643.7,200.5 644.1,200.6 644.5,200.7 644.8,200.7 645.2,200.8 645.5,200.8 645.9,200.8" fill="none" stroke="#4a6fd6" stroke-width="1"/>
<path d="M615.3,200.8 615.7,200.8 616,200.7 616.4,200.7 616.8,200.6 617.1,200.5 617.5,200.4 617.8,200.2 618.2,200 618.5,199.7 618.9,199.4 619.2,199 619.6,198.4 620,197.8 620.3,197.1 620.7,196.2 621,195.1 621.4,193.9 621.7,192.5 622.1,190.9 622.4,189.1 622.8,187.1 623.1,184.9 623.5,182.6 623.9,180.1 624.2,177.4 624.6,174.7 624.9,171.9 625.3,169.1 625.6,166.3 626,163.7 626.3,161.2 626.7,158.9 627.1,156.9 627.4,155.2 627.8,153.9 628.1,153 628.5,152.5 628.8,152.4" fill="none" stroke="#55c8dc" stroke-width="0.9"/>
<path d="M564.2,200.4 564.6,199.9 564.9,198.8 565.3,196.9 565.6,193.6 566,188.7 566.4,181.4 566.7,171.4 567.1,158.7 567.4,143.3 567.8,126.1 568.1,108 568.5,90.2 568.8,74.1 569.2,60.6 569.5,50.5 569.9,44.1 570.3,40.9 570.6,40.3 571,40.9 571.3,44.1 571.7,50.5 572,60.6 572.4,74.1 572.7,90.2 573.1,108 573.5,126.1 573.8,143.3 574.2,158.7 574.5,171.4 574.9,181.4 575.2,188.7 575.6,193.6 575.9,196.9 576.3,198.8 576.6,199.9 577,200.4" fill="none" stroke="#1d5a2a" stroke-width="1.1" stroke-dasharray="4,2.5"/>
<path d="M618.2,200 618.5,199.7 618.9,199.4 619.2,199 619.6,198.4 620,197.8 620.3,197.1 620.7,196.2 621,195.1 621.4,193.9 621.7,192.5 622.1,190.9 622.4,189.1 622.8,187.1 623.1,184.9 623.5,182.6 623.9,180.1 624.2,177.4 624.6,174.7 624.9,171.9 625.3,169.1 625.6,166.3 626,163.7 626.3,161.2 626.7,158.9 627.1,156.9 627.4,155.2 627.8,153.9 628.1,153 628.5,152.5 628.8,152.4 629.2,152.6 629.5,153.1 629.9,153.8 630.2,154.8 630.6,156 631,157.5 631.3,159.1 631.7,160.8 632,162.7 632.4,164.7 632.7,166.8 633.1,169 633.4,171.1 633.8,173.3 634.2,175.5 634.5,177.6 634.9,179.7 635.2,181.6 635.6,183.5 635.9,185.3 636.3,187 636.6,188.6 637,190 637.4,191.4 637.7,192.6 638.1,193.7 638.4,194.7 638.8,195.5 639.1,196.3 639.5,197 639.8,197.6 640.2,198.2 640.5,198.6 640.9,199 641.3,199.3 641.6,199.6 642,199.8 642.3,200" fill="none" stroke="#1a2a40" stroke-opacity="0.75" stroke-width="0.9" stroke-dasharray="2.5,2.5"/>
</g>
<line x1="506" y1="202.4" x2="688.4" y2="202.4" stroke="#48c8d6" stroke-width="1.1"/>
<line x1="506" y1="201.5" x2="688.4" y2="201.5" stroke="#1c2e24" stroke-width="0.9"/>
<line x1="505.3" y1="18.4" x2="688.4" y2="18.4" stroke="#333" stroke-width="1.4"/>
<line x1="506" y1="17.7" x2="506" y2="201.4" stroke="#888" stroke-width="1.4"/>
<line x1="688.4" y1="17.7" x2="688.4" y2="201.8" stroke="#1a1a1a" stroke-width="1.4"/>
<line x1="501" y1="200.9" x2="506" y2="200.9" stroke="#333" stroke-width="1.2"/>
<text x="497.6" y="204.7" text-anchor="end" font-size="10.6" fill="#222">0</text>
<line x1="503.5" y1="185.8" x2="506" y2="185.8" stroke="#555" stroke-width="0.9"/>
<line x1="503.5" y1="170.7" x2="506" y2="170.7" stroke="#555" stroke-width="0.9"/>
<line x1="503.5" y1="155.5" x2="506" y2="155.5" stroke="#555" stroke-width="0.9"/>
<line x1="501" y1="140.4" x2="506" y2="140.4" stroke="#333" stroke-width="1.2"/>
<text x="497.6" y="144.2" text-anchor="end" font-size="10.6" fill="#222">200</text>
<line x1="503.5" y1="125.3" x2="506" y2="125.3" stroke="#555" stroke-width="0.9"/>
<line x1="503.5" y1="110.2" x2="506" y2="110.2" stroke="#555" stroke-width="0.9"/>
<line x1="503.5" y1="95" x2="506" y2="95" stroke="#555" stroke-width="0.9"/>
<line x1="501" y1="79.9" x2="506" y2="79.9" stroke="#333" stroke-width="1.2"/>
<text x="497.6" y="83.7" text-anchor="end" font-size="10.6" fill="#222">400</text>
<line x1="503.5" y1="64.8" x2="506" y2="64.8" stroke="#555" stroke-width="0.9"/>
<line x1="503.5" y1="49.7" x2="506" y2="49.7" stroke="#555" stroke-width="0.9"/>
<line x1="503.5" y1="34.5" x2="506" y2="34.5" stroke="#555" stroke-width="0.9"/>
<line x1="501" y1="19.4" x2="506" y2="19.4" stroke="#333" stroke-width="1.2"/>
<text x="497.6" y="23.2" text-anchor="end" font-size="10.6" fill="#222">600</text>
<line x1="506" y1="200.9" x2="506" y2="206.6" stroke="#333" stroke-width="1.2"/>
<text x="506.9" y="220.8" text-anchor="middle" font-size="10.6" fill="#222">0</text>
<line x1="514.9" y1="200.9" x2="514.9" y2="203.7" stroke="#555" stroke-width="0.9"/>
<line x1="523.8" y1="200.9" x2="523.8" y2="203.7" stroke="#555" stroke-width="0.9"/>
<line x1="532.6" y1="200.9" x2="532.6" y2="203.7" stroke="#555" stroke-width="0.9"/>
<line x1="541.5" y1="200.9" x2="541.5" y2="206.6" stroke="#333" stroke-width="1.2"/>
<text x="539.6" y="220.8" text-anchor="middle" font-size="10.6" fill="#222">200</text>
<line x1="550.4" y1="200.9" x2="550.4" y2="203.7" stroke="#555" stroke-width="0.9"/>
<line x1="559.2" y1="200.9" x2="559.2" y2="203.7" stroke="#555" stroke-width="0.9"/>
<line x1="568.1" y1="200.9" x2="568.1" y2="203.7" stroke="#555" stroke-width="0.9"/>
<line x1="577" y1="200.9" x2="577" y2="206.6" stroke="#333" stroke-width="1.2"/>
<text x="574.9" y="220.8" text-anchor="middle" font-size="10.6" fill="#222">400</text>
<line x1="585.9" y1="200.9" x2="585.9" y2="203.7" stroke="#555" stroke-width="0.9"/>
<line x1="594.8" y1="200.9" x2="594.8" y2="203.7" stroke="#555" stroke-width="0.9"/>
<line x1="603.6" y1="200.9" x2="603.6" y2="203.7" stroke="#555" stroke-width="0.9"/>
<line x1="612.5" y1="200.9" x2="612.5" y2="206.6" stroke="#333" stroke-width="1.2"/>
<text x="610.4" y="220.8" text-anchor="middle" font-size="10.6" fill="#222">600</text>
<line x1="621.4" y1="200.9" x2="621.4" y2="203.7" stroke="#555" stroke-width="0.9"/>
<line x1="630.2" y1="200.9" x2="630.2" y2="203.7" stroke="#555" stroke-width="0.9"/>
<line x1="639.1" y1="200.9" x2="639.1" y2="203.7" stroke="#555" stroke-width="0.9"/>
<line x1="648" y1="200.9" x2="648" y2="206.6" stroke="#333" stroke-width="1.2"/>
<text x="646.1" y="220.8" text-anchor="middle" font-size="10.6" fill="#222">800</text>
<line x1="656.9" y1="200.9" x2="656.9" y2="203.7" stroke="#555" stroke-width="0.9"/>
<line x1="665.8" y1="200.9" x2="665.8" y2="203.7" stroke="#555" stroke-width="0.9"/>
<line x1="674.6" y1="200.9" x2="674.6" y2="203.7" stroke="#555" stroke-width="0.9"/>
<line x1="683.5" y1="200.9" x2="683.5" y2="206.6" stroke="#333" stroke-width="1.2"/>
<text x="685.5" y="220.8" text-anchor="middle" font-size="10.6" fill="#222">1000</text>
<text x="594.9" y="10" text-anchor="middle" font-size="11.5" fill="#222">50 µM SM</text>
<text x="602.1" y="237.1" text-anchor="middle" font-size="11" fill="#222">FL2-A</text>
<text transform="translate(474,107.6) rotate(-90)" text-anchor="middle" font-size="11.2" fill="#222">Count</text>
<clipPath id="c127"><rect x="127.6" y="287.3" width="183.3" height="183.7"/></clipPath>
<g clip-path="url(#c127)">
<path d="M185.1,469.9 185.5,469.9 185.9,469.9 186.2,469.8 186.6,469.8 186.9,469.7 187.3,469.6 187.6,469.5 188,469.4 188.4,469.2 188.7,469 189.1,468.8 189.4,468.6 189.8,468.4 190.1,468.2 190.5,467.9 190.9,467.7 191.2,467.4 191.6,467.1 191.9,466.9 192.3,466.6 192.6,466.4 193,466.2 193.4,466 193.7,465.8 194.1,465.6 194.4,465.5 194.8,465.4 195.1,465.3 195.5,465.3 195.9,465.2 196.2,465.2 196.6,465.2 196.9,465.1 197.3,465.1 197.7,465.2 198,465.2 198.4,465.2 198.7,465.2 199.1,465.2 199.4,465.3 199.8,465.3 200.2,465.3 200.5,465.3 200.9,465.4 201.2,465.4 201.6,465.4 201.9,465.4 202.3,465.5 202.7,465.5 203,465.5 203.4,465.5 203.7,465.5 204.1,465.6 204.4,465.6 204.8,465.6 205.2,465.6 205.5,465.7 205.9,465.7 206.2,465.7 206.6,465.7 206.9,465.7 207.3,465.8 207.7,465.8 208,465.8 208.4,465.8 208.7,465.8 209.1,465.8 209.4,465.9 209.8,465.9 210.2,465.9 210.5,465.9 210.9,465.9 211.2,465.9 211.6,466 211.9,466 212.3,466 212.7,466 213,466 213.4,466 213.7,466 214.1,466 214.4,466.1 214.8,466.1 215.2,466.1 215.5,466.1 215.9,466.1 216.2,466.1 216.6,466.1 216.9,466.1 217.3,466.2 217.7,466.2 218,466.2 218.4,466.2 218.7,466.2 219.1,466.2 219.5,466.2 219.8,466.2 220.2,466.2 220.5,466.2 220.9,466.2 221.2,466.3 221.6,466.3 222,466.3 222.3,466.3 222.7,466.3 223,466.3 223.4,466.3 223.7,466.3 224.1,466.3 224.5,466.3 224.8,466.3 225.2,466.3 225.5,466.3 225.9,466.4 226.2,466.4 226.6,466.4 227,466.4 227.3,466.4 227.7,466.4 228,466.4 228.4,466.4 228.7,466.4 229.1,466.4 229.5,466.4 229.8,466.4 230.2,466.4 230.5,466.4 230.9,466.4 231.2,466.4 231.6,466.4 232,466.4 232.3,466.5 232.7,466.5 233,466.5 233.4,466.5 233.7,466.5 234.1,466.5 234.5,466.5 234.8,466.5 235.2,466.5 235.5,466.5 235.9,466.5 236.2,466.5 236.6,466.5 237,466.5 237.3,466.5 237.7,466.5 238,466.5 238.4,466.5 238.8,466.5 239.1,466.5 239.5,466.5 239.8,466.5 240.2,466.5 240.5,466.5 240.9,466.5 241.3,466.6 241.6,466.6 242,466.6 242.3,466.6 242.7,466.6 243,466.6 243.4,466.6 243.8,466.6 244.1,466.6 244.5,466.7 244.8,466.7 245.2,466.7 245.5,466.8 245.9,466.8 246.3,466.9 246.6,466.9 247,467 247.3,467.1 247.7,467.1 248,467.2 248.4,467.3 248.8,467.4 249.1,467.5 249.5,467.7 249.8,467.8 250.2,467.9 250.5,468 250.9,468.2 251.3,468.3 251.6,468.4 252,468.6 252.3,468.7 252.7,468.8 253,468.9 253.4,469.1 253.8,469.2 254.1,469.3 254.5,469.4 254.8,469.4 255.2,469.5 255.5,469.6 255.9,469.7 256.3,469.7 256.6,469.8 257,469.8 257.3,469.8 257.7,469.9 258.1,469.9 258.4,469.9 258.8,469.9 L258.8,470 L185.1,470 Z" fill="#dcda96"/>
<path d="M185.1,469.9 185.5,469.9 185.9,469.9 186.2,469.8 186.6,469.8 186.9,469.7 187.3,469.6 187.6,469.5 188,469.4 188.4,469.2 188.7,469 189.1,468.8 189.4,468.6 189.8,468.4 190.1,468.2 190.5,467.9 190.9,467.7 191.2,467.4 191.6,467.1 191.9,466.9 192.3,466.6 192.6,466.4 193,466.2 193.4,466 193.7,465.8 194.1,465.6 194.4,465.5 194.8,465.4 195.1,465.3 195.5,465.3 195.9,465.2 196.2,465.2 196.6,465.2 196.9,465.1 197.3,465.1 197.7,465.2 198,465.2 198.4,465.2 198.7,465.2 199.1,465.2 199.4,465.3 199.8,465.3 200.2,465.3 200.5,465.3 200.9,465.4 201.2,465.4 201.6,465.4 201.9,465.4 202.3,465.5 202.7,465.5 203,465.5 203.4,465.5 203.7,465.5 204.1,465.6 204.4,465.6 204.8,465.6 205.2,465.6 205.5,465.7 205.9,465.7 206.2,465.7 206.6,465.7 206.9,465.7 207.3,465.8 207.7,465.8 208,465.8 208.4,465.8 208.7,465.8 209.1,465.8 209.4,465.9 209.8,465.9 210.2,465.9 210.5,465.9 210.9,465.9 211.2,465.9 211.6,466 211.9,466 212.3,466 212.7,466 213,466 213.4,466 213.7,466 214.1,466 214.4,466.1 214.8,466.1 215.2,466.1 215.5,466.1 215.9,466.1 216.2,466.1 216.6,466.1 216.9,466.1 217.3,466.2 217.7,466.2 218,466.2 218.4,466.2 218.7,466.2 219.1,466.2 219.5,466.2 219.8,466.2 220.2,466.2 220.5,466.2 220.9,466.2 221.2,466.3 221.6,466.3 222,466.3 222.3,466.3 222.7,466.3 223,466.3 223.4,466.3 223.7,466.3 224.1,466.3 224.5,466.3 224.8,466.3 225.2,466.3 225.5,466.3 225.9,466.4 226.2,466.4 226.6,466.4 227,466.4 227.3,466.4 227.7,466.4 228,466.4 228.4,466.4 228.7,466.4 229.1,466.4 229.5,466.4 229.8,466.4 230.2,466.4 230.5,466.4 230.9,466.4 231.2,466.4 231.6,466.4 232,466.4 232.3,466.5 232.7,466.5 233,466.5 233.4,466.5 233.7,466.5 234.1,466.5 234.5,466.5 234.8,466.5 235.2,466.5 235.5,466.5 235.9,466.5 236.2,466.5 236.6,466.5 237,466.5 237.3,466.5 237.7,466.5 238,466.5 238.4,466.5 238.8,466.5 239.1,466.5 239.5,466.5 239.8,466.5 240.2,466.5 240.5,466.5 240.9,466.5 241.3,466.6 241.6,466.6 242,466.6 242.3,466.6 242.7,466.6 243,466.6 243.4,466.6 243.8,466.6 244.1,466.6 244.5,466.7 244.8,466.7 245.2,466.7 245.5,466.8 245.9,466.8 246.3,466.9 246.6,466.9 247,467 247.3,467.1 247.7,467.1 248,467.2 248.4,467.3 248.8,467.4 249.1,467.5 249.5,467.7 249.8,467.8 250.2,467.9 250.5,468 250.9,468.2 251.3,468.3 251.6,468.4 252,468.6 252.3,468.7 252.7,468.8 253,468.9 253.4,469.1 253.8,469.2 254.1,469.3 254.5,469.4 254.8,469.4 255.2,469.5 255.5,469.6 255.9,469.7 256.3,469.7 256.6,469.8 257,469.8 257.3,469.8 257.7,469.9 258.1,469.9 258.4,469.9 258.8,469.9" fill="none" stroke="#e07a3a" stroke-width="0.9"/>
<path d="M182.6,470 183,469.9 183.4,469.8 183.7,469.5 184.1,469 184.4,468.1 184.8,466.6 185.1,464.3 185.5,460.7 185.9,455.5 186.2,448.4 186.6,439.1 186.9,427.6 187.3,414 187.6,398.7 188,382.3 188.4,365.7 188.7,349.6 189.1,335.1 189.4,322.8 189.8,313.1 190.1,306.4 190.5,302.5 190.9,300.9 191.2,300.8 191.6,301.8 191.9,305 192.3,310.8 192.6,319.6 193,331.1 193.4,345.1 193.7,360.8 194.1,377.3 194.4,393.9 194.8,409.6 195.1,423.8 195.5,435.9 195.9,445.9 196.2,453.6 196.6,459.3 196.9,463.3 197.3,466 197.7,467.7 198,468.8 198.4,469.4 198.7,469.7 199.1,469.9 199.4,469.9 L199.4,470 L182.6,470 Z" fill="#96d796"/>
<path d="M238,469.9 238.4,469.9 238.8,469.9 239.1,469.8 239.5,469.7 239.8,469.6 240.2,469.4 240.5,469.2 240.9,468.9 241.3,468.5 241.6,467.9 242,467.3 242.3,466.4 242.7,465.4 243,464.1 243.4,462.6 243.8,460.8 244.1,458.7 244.5,456.4 244.8,453.8 245.2,451.1 245.5,448.1 245.9,445 246.3,441.9 246.6,438.8 247,435.9 247.3,433.2 247.7,430.8 248,428.9 248.4,427.4 248.8,426.6 249.1,426.3 249.5,426.4 249.8,427 250.2,427.8 250.5,429 250.9,430.5 251.3,432.3 251.6,434.3 252,436.4 252.3,438.7 252.7,441.1 253,443.5 253.4,445.9 253.8,448.2 254.1,450.5 254.5,452.7 254.8,454.8 255.2,456.7 255.5,458.5 255.9,460.2 256.3,461.6 256.6,462.9 257,464.1 257.3,465.1 257.7,466 258.1,466.7 258.4,467.3 258.8,467.8 259.1,468.3 259.5,468.6 259.8,468.9 260.2,469.2 260.6,469.4 260.9,469.5 261.3,469.6 261.6,469.7 262,469.8 262.3,469.8 262.7,469.9 263.1,469.9 263.4,469.9 L263.4,470 L238,470 Z" fill="#a5d7e1"/>
<path d="M185.1,469.9 185.5,469.9 185.9,469.9 186.2,469.8 186.6,469.8 186.9,469.7 187.3,469.6 187.6,469.5 188,469.4 188.4,469.2 188.7,469 189.1,468.8 189.4,468.6 189.8,468.4 190.1,468.2 190.5,467.9 190.9,467.7 191.2,467.4 191.6,467.1 191.9,466.9 192.3,466.6 192.6,466.4 193,466.2 193.4,466 193.7,465.8 194.1,465.6 194.4,465.5 194.8,465.4 195.1,465.3 195.5,465.3 195.9,465.2 196.2,465.2 196.6,465.2 196.9,465.1 197.3,466 197.7,467.7 198,468.8 198.4,469.4 198.7,469.7 199.1,469.9 199.4,469.9 L199.4,470 L185.1,470 Z" fill="#7dc85a"/>
<path d="M238,469.9 238.4,469.9 238.8,469.9 239.1,469.8 239.5,469.7 239.8,469.6 240.2,469.4 240.5,469.2 240.9,468.9 241.3,468.5 241.6,467.9 242,467.3 242.3,466.6 242.7,466.6 243,466.6 243.4,466.6 243.8,466.6 244.1,466.6 244.5,466.7 244.8,466.7 245.2,466.7 245.5,466.8 245.9,466.8 246.3,466.9 246.6,466.9 247,467 247.3,467.1 247.7,467.1 248,467.2 248.4,467.3 248.8,467.4 249.1,467.5 249.5,467.7 249.8,467.8 250.2,467.9 250.5,468 250.9,468.2 251.3,468.3 251.6,468.4 252,468.6 252.3,468.7 252.7,468.8 253,468.9 253.4,469.1 253.8,469.2 254.1,469.3 254.5,469.4 254.8,469.4 255.2,469.5 255.5,469.6 255.9,469.7 256.3,469.7 256.6,469.8 257,469.8 257.3,469.8 257.7,469.9 258.1,469.9 258.4,469.9 258.8,469.9 L258.8,470 L238,470 Z" fill="#8fd2bf"/>
<path d="M238,469.9 238.4,469.9 238.8,469.9 239.1,469.8 239.5,469.7 239.8,469.6 240.2,469.4 240.5,469.2 240.9,468.9 241.3,468.5 241.6,467.9 242,467.3 242.3,466.6 242.7,466.6 243,466.6 243.4,466.6 243.8,466.6 244.1,466.6 244.5,466.7 244.8,466.7 245.2,466.7 245.5,466.8 245.9,466.8 246.3,466.9 246.6,466.9 247,467 247.3,467.1 247.7,467.1 248,467.2 248.4,467.3 248.8,467.4 249.1,467.5 249.5,467.7 249.8,467.8 250.2,467.9 250.5,468 250.9,468.2 251.3,468.3 251.6,468.4 252,468.6 252.3,468.7 252.7,468.8 253,468.9 253.4,469.1 253.8,469.2 254.1,469.3 254.5,469.4 254.8,469.4 255.2,469.5 255.5,469.6 255.9,469.7 256.3,469.7 256.6,469.8 257,469.8 257.3,469.8 257.7,469.9 258.1,469.9 258.4,469.9 258.8,469.9" fill="none" stroke="#5cc24a" stroke-width="0.8"/>
<path d="M182.6,470 183,469.9 183.4,469.8 183.7,469.5 184.1,469 184.4,468.1 184.8,466.6 185.1,464.3 185.5,460.7 185.9,455.5 186.2,448.4 186.6,439.1 186.9,427.6 187.3,414 187.6,398.7 188,382.3 188.4,365.7 188.7,349.6 189.1,335.1 189.4,322.8 189.8,313.1 190.1,306.4 190.5,302.5 190.9,300.9 191.2,300.8 191.6,301.8 191.9,305 192.3,310.8 192.6,319.6 193,331.1 193.4,345.1 193.7,360.8 194.1,377.3 194.4,393.9 194.8,409.6 195.1,423.8 195.5,435.9 195.9,445.9 196.2,453.6 196.6,459.3 196.9,463.3 197.3,466 197.7,467.7 198,468.8 198.4,469.4 198.7,469.7 199.1,469.9 199.4,469.9" fill="none" stroke="#3dbb3d" stroke-width="0.9"/>
<path d="M186.9,427.3 187.3,413.6 187.6,398.1 188,381.5 188.4,364.6 188.7,348.3 189.1,333.4 189.4,320.8 189.8,310.8 190.1,303.7 190.5,299.4 190.9,297.5 191.2,297.1 191.6,297.9 191.9,300.9 192.3,306.6 192.6,315.3 193,326.8 193.4,340.6 193.7,356.3 194.1,372.8 194.4,389.3 194.8,404.9 195.1,419 195.5,431.1 L195.5,435.9 L195.1,423.8 L194.8,409.6 L194.4,393.9 L194.1,377.3 L193.7,360.8 L193.4,345.1 L193,331.1 L192.6,319.6 L192.3,310.8 L191.9,305 L191.6,301.8 L191.2,300.8 L190.9,300.9 L190.5,302.5 L190.1,306.4 L189.8,313.1 L189.4,322.8 L189.1,335.1 L188.7,349.6 L188.4,365.7 L188,382.3 L187.6,398.7 L187.3,414 L186.9,427.6 Z" fill="#c94cbe"/>
<path d="M127.6,470 128,470 128.3,470 128.7,470 129,470 129.4,470 129.7,470 130.1,470 130.5,470 130.8,470 131.2,470 131.5,470 131.9,470 132.2,470 132.6,470 133,470 133.3,470 133.7,470 134,470 134.4,470 134.7,470 135.1,470 135.5,470 135.8,470 136.2,470 136.5,470 136.9,470 137.2,470 137.6,470 138,470 138.3,470 138.7,470 139,470 139.4,470 139.8,470 140.1,470 140.5,470 140.8,470 141.2,470 141.5,470 141.9,470 142.3,470 142.6,470 143,470 143.3,470 143.7,470 144,470 144.4,470 144.8,470 145.1,470 145.5,470 145.8,470 146.2,470 146.5,470 146.9,470 147.3,470 147.6,470 148,470 148.3,470 148.7,470 149,470 149.4,470 149.8,470 150.1,470 150.5,470 150.8,470 151.2,470 151.5,470 151.9,470 152.3,470 152.6,470 153,470 153.3,470 153.7,470 154,470 154.4,470 154.8,470 155.1,470 155.5,470 155.8,470 156.2,470 156.5,470 156.9,470 157.3,470 157.6,470 158,470 158.3,470 158.7,470 159.1,470 159.4,470 159.8,470 160.1,470 160.5,470 160.8,470 161.2,470 161.6,470 161.9,470 162.3,470 162.6,470 163,470 163.3,470 163.7,470 164.1,470 164.4,470 164.8,470 165.1,470 165.5,470 165.8,470 166.2,470 166.6,470 166.9,470 167.3,470 167.6,470 168,470 168.3,470 168.7,470 169.1,470 169.4,470 169.8,470 170.1,470 170.5,470 170.8,470 171.2,470 171.6,470 171.9,470 172.3,470 172.6,470 173,470 173.3,470 173.7,470 174.1,470 174.4,470 174.8,470 175.1,470 175.5,470 175.8,470 176.2,470 176.6,470 176.9,470 177.3,470 177.6,470 178,470 178.4,470 178.7,470 179.1,470 179.4,470 179.8,470 180.1,470 180.5,470 180.9,470 181.2,470 181.6,470 181.9,470 182.3,470 182.6,470 183,470 183.4,469.9 183.7,469.8 184.1,469.5 184.4,469.1 184.8,468.3 185.1,466.9 185.5,464.8 185.9,461.5 186.2,456.6 186.6,450 186.9,441.2 187.3,430.2 187.6,417 188,402 188.4,385.7 188.7,368.9 189.1,352.4 189.4,337.2 189.8,324 190.1,313.3 190.5,305.6 190.9,300.6 191.2,298.1 191.6,297.3 191.9,297.8 192.3,300.3 192.6,305.3 193,313.2 193.4,323.9 193.7,337.2 194.1,352.4 194.4,368.7 194.8,385.2 195.1,401 195.5,415.5 195.9,428.1 196.2,438.6 196.6,446.8 196.9,453 197.3,457.4 197.7,460.5 198,462.5 198.4,463.7 198.7,464.4 199.1,464.8 199.4,465.1 199.8,465.1 200.2,465 200.5,465.1 200.9,464.9 201.2,464.9 201.6,464.9 201.9,465.1 202.3,465 202.7,465.2 203,465.3 203.4,465.7 203.7,465.9 204.1,465.9 204.4,466.1 204.8,466.3 205.2,466.3 205.5,466.2 205.9,466.1 206.2,465.9 206.6,465.7 206.9,465.7 207.3,465.6 207.7,465.7 208,465.7 208.4,465.7 208.7,465.6 209.1,465.5 209.4,465.5 209.8,465.5 210.2,465.3 210.5,465.4 210.9,465.5 211.2,465.3 211.6,465.5 211.9,465.4 212.3,465.5 212.7,465.6 213,465.6 213.4,465.7 213.7,465.5 214.1,465.3 214.4,465.3 214.8,465.3 215.2,465.5 215.5,465.8 215.9,465.7 216.2,465.8 216.6,465.7 216.9,466 217.3,466.1 217.7,466.1 218,466 218.4,465.9 218.7,465.8 219.1,466 219.5,466 219.8,466.1 220.2,466 220.5,466.2 220.9,466.3 221.2,466.5 221.6,466.5 222,466.3 222.3,466.2 222.7,466.2 223,466.1 223.4,466.3 223.7,466.2 224.1,466 224.5,465.8 224.8,466 225.2,466.1 225.5,466.1 225.9,466.1 226.2,466 226.6,466 227,466 227.3,466.2 227.7,466.1 228,465.9 228.4,465.9 228.7,465.9 229.1,465.7 229.5,465.8 229.8,465.7 230.2,465.7 230.5,465.6 230.9,465.9 231.2,465.8 231.6,465.7 232,465.8 232.3,465.9 232.7,465.8 233,465.6 233.4,465.7 233.7,465.8 234.1,465.6 234.5,465.8 234.8,465.7 235.2,465.9 235.5,465.7 235.9,465.7 236.2,465.8 236.6,466 237,466.1 237.3,465.9 237.7,465.9 238,466.1 238.4,465.9 238.8,465.9 239.1,466 239.5,465.9 239.8,465.7 240.2,465.3 240.5,465.1 240.9,464.8 241.3,464.5 241.6,464.3 242,464.1 242.3,463.4 242.7,462.7 243,461.8 243.4,460.7 243.8,459.4 244.1,457.7 244.5,455.8 244.8,453.6 245.2,451.2 245.5,448.5 245.9,445.6 246.3,442.6 246.6,439.5 247,436.5 247.3,433.6 247.7,430.9 248,428.6 248.4,426.6 248.8,425.1 249.1,424.2 249.5,423.8 249.8,424 250.2,424.6 250.5,425.5 250.9,426.8 251.3,428.3 251.6,430.1 252,432.2 252.3,434.4 252.7,436.8 253,439.2 253.4,441.8 253.8,444.3 254.1,446.7 254.5,449.1 254.8,451.4 255.2,453.5 255.5,455.5 255.9,457.3 256.3,458.9 256.6,460.4 257,461.6 257.3,462.7 257.7,463.6 258.1,464.4 258.4,465 258.8,465.6 259.1,466 259.5,466.4 259.8,466.7 260.2,467 260.6,467.2 260.9,467.4 261.3,467.7 261.6,468 262,468.3 262.3,468.6 262.7,469 263.1,469.4 263.4,469.6 263.8,469.8 264.1,469.9 264.5,469.9 264.8,470 265.2,470 265.6,470 265.9,470 266.3,470 266.6,470 267,470 267.3,470 267.7,470 268.1,470 268.4,470 268.8,470 269.1,470 269.5,470 269.8,470 270.2,470 270.6,470 270.9,470 271.3,470 271.6,470 272,470 272.3,470 272.7,470 273.1,470 273.4,470 273.8,470 274.1,470 274.5,470 274.8,470 275.2,470 275.6,470 275.9,470 276.3,470 276.6,470 277,470 277.4,470 277.7,470 278.1,470 278.4,470 278.8,470 279.1,470 279.5,470 279.9,470 280.2,470 280.6,470 280.9,470 281.3,470 281.6,470 282,470 282.4,470 282.7,470 283.1,470 283.4,470 283.8,470 284.1,470 284.5,470 284.9,470 285.2,470 285.6,470 285.9,470 286.3,470 286.6,470 287,470 287.4,470 287.7,470 288.1,470 288.4,470 288.8,470 289.1,470 289.5,470 289.9,470 290.2,470 290.6,470 290.9,470 291.3,470 291.6,470 292,470 292.4,470 292.7,470 293.1,470 293.4,470 293.8,470 294.1,470 294.5,470 294.9,470 295.2,470 295.6,470 295.9,470 296.3,470 296.7,470 297,470 297.4,470 297.7,470 298.1,470 298.4,470 298.8,470 299.2,470 299.5,470 299.9,470 300.2,470 300.6,470 300.9,470 301.3,470 301.7,470 302,470 302.4,470 302.7,470 303.1,470 303.4,470 303.8,470 304.2,470 304.5,470 304.9,470 305.2,470 305.6,470 305.9,470 306.3,470 306.7,470 307,470 307.4,470 307.7,470 308.1,470 308.4,470 308.8,470 309.2,470 309.5,470 309.9,470 310.2,470" fill="none" stroke="#0a0a0a" stroke-width="1.7" stroke-linejoin="round"/>
<path d="M183,469.9 183.4,469.7 183.7,469.5 184.1,469 184.4,468.1 184.8,466.6 185.1,464.2 185.5,460.6 185.9,455.3 186.2,448.2 186.6,438.9 186.9,427.3 187.3,413.6 187.6,398.1 188,381.5 188.4,364.6 188.7,348.3 189.1,333.4 189.4,320.8 189.8,310.8 190.1,303.7 190.5,299.4 190.9,297.5 191.2,297.1 191.6,297.9 191.9,300.9 192.3,306.6 192.6,315.3 193,326.8 193.4,340.6 193.7,356.3 194.1,372.8 194.4,389.3 194.8,404.9 195.1,419 195.5,431.1 195.9,441 196.2,448.7 196.6,454.4 196.9,458.5 197.3,461.2 197.7,462.9 198,463.9 198.4,464.5 198.7,464.9 199.1,465.1 199.4,465.2 199.8,465.2 200.2,465.3 200.5,465.3 200.9,465.4 201.2,465.4 201.6,465.4 201.9,465.4 202.3,465.5 202.7,465.5 203,465.5 203.4,465.5 203.7,465.5 204.1,465.6 204.4,465.6 204.8,465.6 205.2,465.6 205.5,465.7 205.9,465.7 206.2,465.7 206.6,465.7 206.9,465.7 207.3,465.8 207.7,465.8 208,465.8 208.4,465.8 208.7,465.8 209.1,465.8 209.4,465.9 209.8,465.9 210.2,465.9 210.5,465.9 210.9,465.9 211.2,465.9 211.6,466 211.9,466 212.3,466 212.7,466 213,466 213.4,466 213.7,466 214.1,466 214.4,466.1 214.8,466.1 215.2,466.1 215.5,466.1 215.9,466.1 216.2,466.1 216.6,466.1 216.9,466.1 217.3,466.2 217.7,466.2 218,466.2 218.4,466.2 218.7,466.2 219.1,466.2 219.5,466.2 219.8,466.2 220.2,466.2 220.5,466.2 220.9,466.2 221.2,466.3 221.6,466.3 222,466.3 222.3,466.3 222.7,466.3 223,466.3 223.4,466.3 223.7,466.3 224.1,466.3 224.5,466.3 224.8,466.3 225.2,466.3 225.5,466.3 225.9,466.4 226.2,466.4 226.6,466.4 227,466.4 227.3,466.4 227.7,466.4 228,466.4 228.4,466.4 228.7,466.4 229.1,466.4 229.5,466.4 229.8,466.4 230.2,466.4 230.5,466.4 230.9,466.4 231.2,466.4 231.6,466.4 232,466.4 232.3,466.5 232.7,466.5 233,466.5 233.4,466.5 233.7,466.5 234.1,466.5 234.5,466.5 234.8,466.5 235.2,466.5 235.5,466.5 235.9,466.5 236.2,466.5 236.6,466.5 237,466.5 237.3,466.5 237.7,466.5 238,466.5 238.4,466.4 238.8,466.4 239.1,466.3 239.5,466.2 239.8,466.1 240.2,466 240.5,465.7 240.9,465.4 241.3,465 241.6,464.5 242,463.8 242.3,463 242.7,461.9 243,460.7 243.4,459.2 243.8,457.4 244.1,455.4 244.5,453.1 244.8,450.6 245.2,447.8 245.5,444.9 245.9,441.8 246.3,438.8 246.6,435.8 247,432.9 247.3,430.3 247.7,428 248,426.1 248.4,424.8 248.8,424 249.1,423.8 249.5,424.1 249.8,424.7 250.2,425.8 250.5,427.1 250.9,428.7 251.3,430.6 251.6,432.7 252,435 252.3,437.4 252.7,439.9 253,442.4 253.4,444.9 253.8,447.4 254.1,449.8 254.5,452.1 254.8,454.3 255.2,456.3 255.5,458.1 255.9,459.8 256.3,461.3 256.6,462.7 257,463.9 257.3,464.9 257.7,465.8 258.1,466.6 258.4,467.2 258.8,467.8 259.1,468.2 259.5,468.6 259.8,468.9 260.2,469.2 260.6,469.3 260.9,469.5 261.3,469.6 261.6,469.7 262,469.8" fill="none" stroke="#c94cbe" stroke-width="1.25"/>
<path d="M249.1,426.3 249.5,426.4 249.8,427 250.2,427.8 250.5,429 250.9,430.5 251.3,432.3 251.6,434.3 252,436.4 252.3,438.7 252.7,441.1 253,443.5 253.4,445.9 253.8,448.2 254.1,450.5 254.5,452.7 254.8,454.8 255.2,456.7 255.5,458.5 255.9,460.2 256.3,461.6 256.6,462.9 257,464.1 257.3,465.1 257.7,466 258.1,466.7 258.4,467.3 258.8,467.8 259.1,468.3 259.5,468.6 259.8,468.9 260.2,469.2 260.6,469.4 260.9,469.5 261.3,469.6 261.6,469.7 262,469.8 262.3,469.8 262.7,469.9 263.1,469.9 263.4,469.9" fill="none" stroke="#4a6fd6" stroke-width="1"/>
<path d="M238,469.9 238.4,469.9 238.8,469.9 239.1,469.8 239.5,469.7 239.8,469.6 240.2,469.4 240.5,469.2 240.9,468.9 241.3,468.5 241.6,467.9 242,467.3 242.3,466.4 242.7,465.4 243,464.1 243.4,462.6 243.8,460.8 244.1,458.7 244.5,456.4 244.8,453.8 245.2,451.1 245.5,448.1 245.9,445 246.3,441.9 246.6,438.8 247,435.9 247.3,433.2 247.7,430.8 248,428.9 248.4,427.4 248.8,426.6 249.1,426.3 249.5,426.4" fill="none" stroke="#55c8dc" stroke-width="0.9"/>
<path d="M185.1,469.7 185.5,469.3 185.9,468.4 186.2,466.6 186.6,463.3 186.9,457.8 187.3,449.2 187.6,437.2 188,421.4 188.4,402.4 188.7,381.3 189.1,359.9 189.4,340.1 189.8,323.5 190.1,311.4 190.5,304.1 190.9,301.1 191.2,300.8 191.6,302.8 191.9,308.7 192.3,319.3 192.6,334.7 193,353.7 193.4,374.9 193.7,396.2 194.1,416 194.4,432.8 194.8,446 195.1,455.6 195.5,461.9 195.9,465.8 196.2,468 196.6,469.1 196.9,469.6" fill="none" stroke="#1d5a2a" stroke-width="1.1" stroke-dasharray="4,2.5"/>
<path d="M240.2,469.4 240.5,469.2 240.9,468.9 241.3,468.5 241.6,467.9 242,467.3 242.3,466.4 242.7,465.4 243,464.1 243.4,462.6 243.8,460.8 244.1,458.7 244.5,456.4 244.8,453.8 245.2,451.1 245.5,448.1 245.9,445 246.3,441.9 246.6,438.8 247,435.9 247.3,433.2 247.7,430.8 248,428.9 248.4,427.4 248.8,426.6 249.1,426.3 249.5,426.4 249.8,427 250.2,427.8 250.5,429 250.9,430.5 251.3,432.3 251.6,434.3 252,436.4 252.3,438.7 252.7,441.1 253,443.5 253.4,445.9 253.8,448.2 254.1,450.5 254.5,452.7 254.8,454.8 255.2,456.7 255.5,458.5 255.9,460.2 256.3,461.6 256.6,462.9 257,464.1 257.3,465.1 257.7,466 258.1,466.7 258.4,467.3 258.8,467.8 259.1,468.3 259.5,468.6 259.8,468.9 260.2,469.2 260.6,469.4" fill="none" stroke="#1a2a40" stroke-opacity="0.75" stroke-width="0.9" stroke-dasharray="2.5,2.5"/>
</g>
<line x1="127.6" y1="471.5" x2="310.9" y2="471.5" stroke="#48c8d6" stroke-width="1.1"/>
<line x1="127.6" y1="470.6" x2="310.9" y2="470.6" stroke="#1c2e24" stroke-width="0.9"/>
<line x1="126.9" y1="287.3" x2="310.9" y2="287.3" stroke="#888" stroke-width="1.4"/>
<line x1="127.6" y1="286.6" x2="127.6" y2="470.5" stroke="#6e6e6e" stroke-width="1.4"/>
<line x1="310.9" y1="286.6" x2="310.9" y2="470.9" stroke="#222" stroke-width="1.4"/>
<line x1="122.6" y1="470" x2="127.6" y2="470" stroke="#333" stroke-width="1.2"/>
<text x="119.2" y="473.8" text-anchor="end" font-size="10.6" fill="#222">0</text>
<line x1="125.1" y1="457.2" x2="127.6" y2="457.2" stroke="#555" stroke-width="0.9"/>
<line x1="125.1" y1="444.5" x2="127.6" y2="444.5" stroke="#555" stroke-width="0.9"/>
<line x1="125.1" y1="431.7" x2="127.6" y2="431.7" stroke="#555" stroke-width="0.9"/>
<line x1="122.6" y1="418.9" x2="127.6" y2="418.9" stroke="#333" stroke-width="1.2"/>
<text x="119.2" y="422.7" text-anchor="end" font-size="10.6" fill="#222">200</text>
<line x1="125.1" y1="406.2" x2="127.6" y2="406.2" stroke="#555" stroke-width="0.9"/>
<line x1="125.1" y1="393.4" x2="127.6" y2="393.4" stroke="#555" stroke-width="0.9"/>
<line x1="125.1" y1="380.6" x2="127.6" y2="380.6" stroke="#555" stroke-width="0.9"/>
<line x1="122.6" y1="367.9" x2="127.6" y2="367.9" stroke="#333" stroke-width="1.2"/>
<text x="119.2" y="371.7" text-anchor="end" font-size="10.6" fill="#222">400</text>
<line x1="125.1" y1="355.1" x2="127.6" y2="355.1" stroke="#555" stroke-width="0.9"/>
<line x1="125.1" y1="342.3" x2="127.6" y2="342.3" stroke="#555" stroke-width="0.9"/>
<line x1="125.1" y1="329.6" x2="127.6" y2="329.6" stroke="#555" stroke-width="0.9"/>
<line x1="122.6" y1="316.8" x2="127.6" y2="316.8" stroke="#333" stroke-width="1.2"/>
<text x="119.2" y="320.6" text-anchor="end" font-size="10.6" fill="#222">600</text>
<line x1="125.1" y1="304.1" x2="127.6" y2="304.1" stroke="#555" stroke-width="0.9"/>
<line x1="125.1" y1="291.3" x2="127.6" y2="291.3" stroke="#555" stroke-width="0.9"/>
<line x1="127.6" y1="470" x2="127.6" y2="475.7" stroke="#333" stroke-width="1.2"/>
<text x="127.7" y="489.7" text-anchor="middle" font-size="10.6" fill="#222">0</text>
<line x1="136.5" y1="470" x2="136.5" y2="472.8" stroke="#555" stroke-width="0.9"/>
<line x1="145.5" y1="470" x2="145.5" y2="472.8" stroke="#555" stroke-width="0.9"/>
<line x1="154.4" y1="470" x2="154.4" y2="472.8" stroke="#555" stroke-width="0.9"/>
<line x1="163.3" y1="470" x2="163.3" y2="475.7" stroke="#333" stroke-width="1.2"/>
<text x="159.9" y="489.7" text-anchor="middle" font-size="10.6" fill="#222">200</text>
<line x1="172.3" y1="470" x2="172.3" y2="472.8" stroke="#555" stroke-width="0.9"/>
<line x1="181.2" y1="470" x2="181.2" y2="472.8" stroke="#555" stroke-width="0.9"/>
<line x1="190.1" y1="470" x2="190.1" y2="472.8" stroke="#555" stroke-width="0.9"/>
<line x1="199.1" y1="470" x2="199.1" y2="475.7" stroke="#333" stroke-width="1.2"/>
<text x="195.7" y="489.7" text-anchor="middle" font-size="10.6" fill="#222">400</text>
<line x1="208" y1="470" x2="208" y2="472.8" stroke="#555" stroke-width="0.9"/>
<line x1="216.9" y1="470" x2="216.9" y2="472.8" stroke="#555" stroke-width="0.9"/>
<line x1="225.9" y1="470" x2="225.9" y2="472.8" stroke="#555" stroke-width="0.9"/>
<line x1="234.8" y1="470" x2="234.8" y2="475.7" stroke="#333" stroke-width="1.2"/>
<text x="231.2" y="489.7" text-anchor="middle" font-size="10.6" fill="#222">600</text>
<line x1="243.8" y1="470" x2="243.8" y2="472.8" stroke="#555" stroke-width="0.9"/>
<line x1="252.7" y1="470" x2="252.7" y2="472.8" stroke="#555" stroke-width="0.9"/>
<line x1="261.6" y1="470" x2="261.6" y2="472.8" stroke="#555" stroke-width="0.9"/>
<line x1="270.6" y1="470" x2="270.6" y2="475.7" stroke="#333" stroke-width="1.2"/>
<text x="267.3" y="489.7" text-anchor="middle" font-size="10.6" fill="#222">800</text>
<line x1="279.5" y1="470" x2="279.5" y2="472.8" stroke="#555" stroke-width="0.9"/>
<line x1="288.4" y1="470" x2="288.4" y2="472.8" stroke="#555" stroke-width="0.9"/>
<line x1="297.4" y1="470" x2="297.4" y2="472.8" stroke="#555" stroke-width="0.9"/>
<line x1="306.3" y1="470" x2="306.3" y2="475.7" stroke="#333" stroke-width="1.2"/>
<text x="306" y="489.7" text-anchor="middle" font-size="10.6" fill="#222">1000</text>
<text x="213.1" y="275" text-anchor="middle" font-size="11.5" fill="#222">100 µM SM</text>
<text x="222.5" y="505.7" text-anchor="middle" font-size="11" fill="#222">FL2-A</text>
<text transform="translate(92.4,381.7) rotate(-90)" text-anchor="middle" font-size="11.2" fill="#222">Count</text>
<line x1="387.5" y1="288.8" x2="387.5" y2="465.9" stroke="#000" stroke-width="1.8"/>
<line x1="386.6" y1="465.2" x2="584.8" y2="465.2" stroke="#000" stroke-width="1.8"/>
<line x1="383" y1="465" x2="387.5" y2="465" stroke="#000" stroke-width="1.6"/>
<text x="378.2" y="469.3" text-anchor="end" font-size="11" fill="#222">0</text>
<line x1="383" y1="421.2" x2="387.5" y2="421.2" stroke="#000" stroke-width="1.6"/>
<text x="378.2" y="425.5" text-anchor="end" font-size="11" fill="#222">30</text>
<line x1="383" y1="377.3" x2="387.5" y2="377.3" stroke="#000" stroke-width="1.6"/>
<text x="378.2" y="381.6" text-anchor="end" font-size="11" fill="#222">60</text>
<line x1="383" y1="333.5" x2="387.5" y2="333.5" stroke="#000" stroke-width="1.6"/>
<text x="378.2" y="337.8" text-anchor="end" font-size="11" fill="#222">90</text>
<line x1="383" y1="289.7" x2="387.5" y2="289.7" stroke="#000" stroke-width="1.6"/>
<text x="378.2" y="294" text-anchor="end" font-size="11" fill="#222">120</text>
<rect x="395" y="405" width="33.9" height="59.1" fill="#d3d3d3"/>
<rect x="395" y="364.7" width="33.9" height="40.3" fill="#808080"/>
<rect x="395" y="323.8" width="33.9" height="40.9" fill="#000"/>
<rect x="403.9" y="320.3" width="16.1" height="2.5" fill="#000"/>
<line x1="411.9" y1="321.3" x2="411.9" y2="323.8" stroke="#000" stroke-width="1.8"/>
<rect x="403.9" y="361.4" width="16.1" height="2.5" fill="#808080"/>
<line x1="411.9" y1="362.6" x2="411.9" y2="364.7" stroke="#808080" stroke-width="1.8"/>
<rect x="403.9" y="400.1" width="16.1" height="2.5" fill="#d3d3d3"/>
<line x1="411.9" y1="401.3" x2="411.9" y2="405" stroke="#d3d3d3" stroke-width="1.8"/>
<line x1="411.9" y1="465" x2="411.9" y2="470" stroke="#000" stroke-width="1.6"/>
<text transform="translate(418.8,480.8) rotate(-45)" text-anchor="end" font-size="11.7" fill="#222">Control</text>
<rect x="444" y="394.6" width="33.9" height="69.5" fill="#d3d3d3"/>
<rect x="444" y="361.9" width="33.9" height="32.7" fill="#808080"/>
<rect x="444" y="322.6" width="33.9" height="39.3" fill="#000"/>
<rect x="453.1" y="318.6" width="16.1" height="2.5" fill="#000"/>
<line x1="461.1" y1="319.6" x2="461.1" y2="322.6" stroke="#000" stroke-width="1.8"/>
<rect x="453.1" y="358.1" width="16.1" height="2.5" fill="#808080"/>
<line x1="461.1" y1="359.3" x2="461.1" y2="361.9" stroke="#808080" stroke-width="1.8"/>
<rect x="453.1" y="389.4" width="16.1" height="2.5" fill="#d3d3d3"/>
<line x1="461.1" y1="390.7" x2="461.1" y2="394.6" stroke="#d3d3d3" stroke-width="1.8"/>
<line x1="461.1" y1="465" x2="461.1" y2="470" stroke="#000" stroke-width="1.6"/>
<text transform="translate(467.9,480.8) rotate(-45)" text-anchor="end" font-size="11.7" fill="#222">25 µM SM</text>
<rect x="493.3" y="390" width="34.3" height="74.1" fill="#d3d3d3"/>
<rect x="493.3" y="354" width="34.3" height="36" fill="#808080"/>
<rect x="493.3" y="320.9" width="34.3" height="33.1" fill="#000"/>
<rect x="502.2" y="317.2" width="16.4" height="2.5" fill="#000"/>
<line x1="510.4" y1="318.2" x2="510.4" y2="320.9" stroke="#000" stroke-width="1.8"/>
<rect x="502.2" y="348.9" width="16.4" height="2.5" fill="#808080"/>
<line x1="510.4" y1="350.1" x2="510.4" y2="354" stroke="#808080" stroke-width="1.8"/>
<rect x="502.2" y="383.4" width="16.4" height="2.5" fill="#d3d3d3"/>
<line x1="510.4" y1="384.6" x2="510.4" y2="390" stroke="#d3d3d3" stroke-width="1.8"/>
<line x1="510.4" y1="465" x2="510.4" y2="470" stroke="#000" stroke-width="1.6"/>
<text transform="translate(517.2,480.8) rotate(-45)" text-anchor="end" font-size="11.7" fill="#222">50 µM SM</text>
<rect x="542.5" y="376" width="34.4" height="88.1" fill="#d3d3d3"/>
<rect x="542.5" y="341.6" width="34.4" height="34.4" fill="#808080"/>
<rect x="542.5" y="318.7" width="34.4" height="22.9" fill="#000"/>
<rect x="551.6" y="315.8" width="16.2" height="2.5" fill="#000"/>
<line x1="559.7" y1="316.8" x2="559.7" y2="318.7" stroke="#000" stroke-width="1.8"/>
<rect x="551.6" y="336.8" width="16.2" height="2.5" fill="#808080"/>
<line x1="559.7" y1="338" x2="559.7" y2="341.6" stroke="#808080" stroke-width="1.8"/>
<rect x="551.6" y="367.9" width="16.2" height="2.5" fill="#d3d3d3"/>
<line x1="559.7" y1="369.1" x2="559.7" y2="376" stroke="#d3d3d3" stroke-width="1.8"/>
<line x1="559.7" y1="465" x2="559.7" y2="470" stroke="#000" stroke-width="1.6"/>
<text transform="translate(566.5,480.8) rotate(-45)" text-anchor="end" font-size="11.7" fill="#222">I00 µM SM</text>
<path d="M509.8,377.8 L509.8,375.1 M509.8,377.8 L512.4,377 M509.8,377.8 L511.4,380 M509.8,377.8 L508.2,380 M509.8,377.8 L507.2,377" stroke="#000" stroke-width="1.6" stroke-linecap="round"/>
<path d="M558.9,362.9 L558.9,360.2 M558.9,362.9 L561.5,362.1 M558.9,362.9 L560.5,365.1 M558.9,362.9 L557.3,365.1 M558.9,362.9 L556.3,362.1" stroke="#000" stroke-width="1.6" stroke-linecap="round"/>
<text transform="translate(349.4,377.9) rotate(-90)" text-anchor="middle" font-size="11.5" fill="#222">Percentage of cell number (%)</text>
<rect x="538" y="282.2" width="20" height="6.2" rx="0.8" fill="#000"/>
<text x="566.8" y="288.4" font-size="9.4" fill="#222">S</text>
<rect x="538" y="291.9" width="20" height="6.2" rx="0.8" fill="#808080"/>
<text x="566.8" y="298.1" font-size="9.4" fill="#222">G2</text>
<rect x="538" y="301.6" width="20" height="6.2" rx="0.8" fill="#d3d3d3"/>
<text x="566.8" y="307.8" font-size="9.4" fill="#222">G1</text>
</svg>
</body></html>
